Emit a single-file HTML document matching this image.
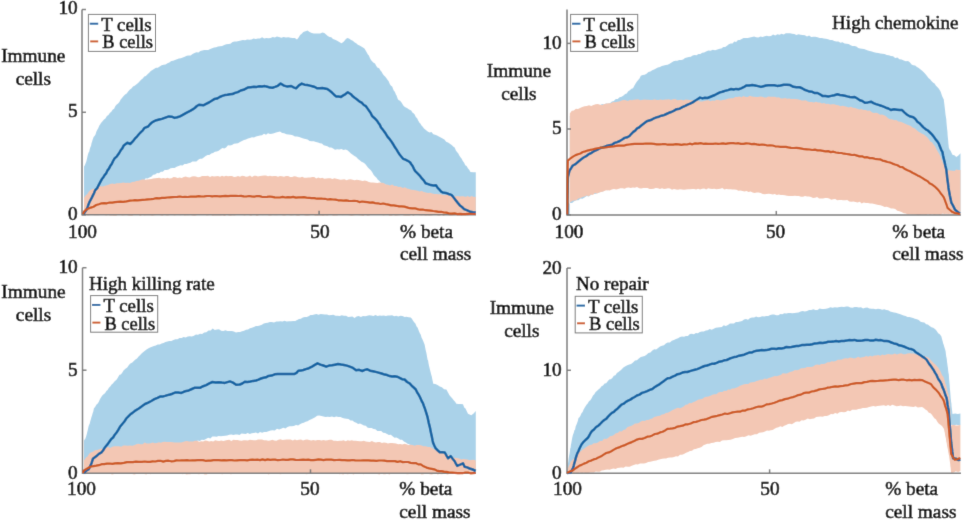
<!DOCTYPE html>
<html><head><meta charset="utf-8"><style>
html,body{margin:0;padding:0;background:#fff;width:964px;height:520px;overflow:hidden}
svg{display:block}
text{font-family:"Liberation Serif",serif;fill:#000;stroke:#000;stroke-width:0.6px}
</style></head><body>
<svg width="964" height="520" viewBox="0 0 964 520">
<defs><filter id="soft" x="0" y="0" width="100%" height="100%" filterUnits="userSpaceOnUse"><feConvolveMatrix order="3" kernelMatrix="0.0100 0.0800 0.0100 0.0800 0.6400 0.0800 0.0100 0.0800 0.0100" edgeMode="duplicate"/></filter></defs>
<rect width="964" height="520" fill="#fff"/>
<g filter="url(#soft)">
<rect width="964" height="520" fill="#fff"/>
<polygon points="84.0,214.0 84.0,212.1 84.0,209.8 84.0,208.0 84.0,205.4 84.0,204.2 84.0,202.2 84.0,199.9 84.0,197.2 84.0,195.6 84.0,193.3 84.0,191.2 84.0,190.1 84.0,188.1 84.0,184.8 84.0,183.9 84.0,181.4 84.0,179.1 84.0,176.9 84.0,175.4 84.0,173.1 84.0,171.3 84.0,169.3 84.0,166.5 84.8,165.3 85.5,163.5 86.3,161.5 86.9,159.0 87.5,156.3 88.0,154.3 88.6,152.6 89.2,151.8 89.8,149.0 90.4,147.1 91.0,145.9 91.5,143.2 92.1,141.6 92.7,139.5 93.6,137.1 94.5,136.0 95.5,134.4 96.4,131.6 97.3,129.8 98.2,128.2 99.2,125.8 100.1,124.6 101.0,123.1 102.5,121.3 104.0,119.6 105.4,118.4 106.9,115.9 108.4,114.9 109.8,113.0 111.3,111.7 112.8,109.5 114.1,108.7 115.4,106.0 116.7,104.4 118.1,103.6 119.4,102.1 120.7,99.6 122.0,97.9 123.6,96.1 125.1,94.5 126.7,93.4 128.3,91.3 129.9,89.6 131.4,88.5 133.0,86.5 134.6,85.8 136.2,84.6 137.8,83.2 139.5,81.4 141.1,79.8 142.7,78.5 144.3,76.5 145.9,76.1 147.5,74.2 149.2,72.7 150.8,71.0 152.4,70.1 154.0,68.9 155.9,67.8 157.8,67.7 159.7,66.6 161.6,65.2 163.5,64.8 165.5,64.6 167.4,63.2 169.3,62.5 171.2,61.0 173.1,60.8 175.0,59.9 176.9,59.2 178.9,58.6 180.8,58.2 182.8,57.5 184.7,56.8 186.7,55.7 188.6,55.4 190.6,55.5 192.5,54.1 194.5,52.9 196.4,52.2 198.4,52.4 200.3,51.1 202.3,50.6 204.3,50.1 206.2,50.0 208.2,50.1 210.2,48.9 212.1,48.2 214.1,47.6 216.1,47.2 218.0,46.5 220.0,46.3 222.1,46.0 224.2,45.1 226.2,44.2 228.3,43.9 230.4,43.7 232.5,42.0 234.6,41.6 236.6,41.5 238.7,41.0 240.8,40.4 242.9,40.1 245.1,40.2 247.2,39.4 249.3,39.7 251.5,39.6 253.6,38.6 255.7,39.0 257.9,38.5 260.0,38.5 262.1,37.3 264.2,38.4 266.3,38.0 268.4,38.2 270.6,38.1 272.7,37.0 274.8,37.5 276.9,36.6 279.0,37.1 281.3,37.8 283.6,37.0 286.0,37.4 288.3,37.3 290.6,37.7 292.7,37.9 294.9,37.9 297.0,39.4 298.6,37.5 300.1,35.1 301.7,33.8 303.3,32.0 305.4,31.2 307.5,30.6 309.6,32.0 311.8,32.9 313.9,33.6 316.0,33.5 318.1,33.6 320.2,33.4 322.3,32.6 324.4,33.0 326.1,34.6 327.8,35.9 329.6,36.9 331.3,37.3 333.0,39.1 335.1,39.7 337.2,40.7 339.3,42.0 341.4,43.3 343.0,42.3 344.5,40.7 346.1,38.8 347.7,38.0 349.4,38.8 351.1,40.0 352.8,40.8 354.5,42.2 356.2,43.2 357.9,44.8 359.6,45.5 361.3,46.5 363.0,47.6 364.7,48.7 365.8,50.7 366.8,52.5 367.9,54.4 368.9,55.6 369.9,57.9 371.0,60.0 372.3,61.6 373.6,62.8 375.0,63.5 376.3,66.1 377.6,67.7 379.0,68.1 380.3,70.2 381.6,71.8 382.8,74.0 384.0,75.4 385.1,76.6 386.3,78.1 387.5,79.8 388.7,81.3 389.8,83.9 391.0,85.8 392.2,86.4 393.1,89.0 394.0,91.1 394.9,91.8 395.8,94.2 396.7,95.8 397.6,98.4 398.5,100.0 400.1,100.7 401.7,102.8 403.3,105.5 404.9,107.0 407.0,108.0 409.1,109.4 411.2,110.4 412.4,112.4 413.5,113.2 414.7,114.5 415.9,117.2 417.0,118.0 418.2,120.5 419.3,122.6 420.5,123.7 421.7,125.7 422.8,126.8 424.0,128.5 425.9,130.1 427.7,131.4 429.6,132.5 431.5,132.1 433.3,134.3 435.2,134.7 437.1,135.4 438.9,136.4 440.8,137.6 442.6,138.5 444.4,139.4 446.2,141.7 448.1,142.6 449.9,143.7 451.7,145.1 453.5,146.7 454.7,147.4 455.8,150.2 457.0,152.1 458.2,153.3 459.3,155.5 460.5,157.2 461.7,158.7 462.8,160.9 464.0,162.4 465.3,165.2 466.6,165.9 467.9,168.2 469.2,169.8 470.5,172.1 473.1,172.3 475.8,172.2 475.8,174.3 475.8,175.9 475.8,178.0 475.8,180.5 475.8,183.4 475.8,184.2 475.8,186.5 475.8,189.2 475.8,190.9 475.8,192.8 475.8,195.9 475.8,196.7 475.8,199.6 475.8,201.4 475.8,203.4 475.8,205.3 475.8,207.3 475.8,209.7 475.8,212.3 475.8,214.0 475.8,214.0 473.8,213.3 471.8,212.6 469.8,212.2 467.8,212.3 465.8,211.1 463.8,210.5 461.9,210.2 459.9,210.0 457.9,209.1 455.9,209.1 453.9,208.3 451.9,207.8 449.9,207.2 447.9,207.3 445.9,205.8 443.9,206.5 441.9,205.9 439.9,204.8 437.9,204.9 435.9,203.3 433.9,203.4 432.0,203.7 430.0,202.9 428.0,202.1 426.0,201.3 424.0,200.7 422.0,200.6 420.0,199.6 418.1,199.2 416.2,197.8 414.4,197.5 412.5,197.2 410.6,196.4 408.7,195.3 406.9,193.9 405.0,193.8 403.1,192.7 401.2,191.2 399.4,191.5 397.5,190.8 395.6,188.9 393.7,189.3 391.9,187.9 390.0,187.5 388.1,186.1 386.2,184.7 384.4,184.8 382.5,183.7 380.6,182.6 379.2,180.8 377.8,179.8 376.5,177.7 375.1,176.5 373.7,175.0 372.2,172.2 370.8,170.2 369.4,169.1 367.9,167.4 366.4,165.6 365.0,163.8 363.2,162.5 361.5,161.7 359.7,160.3 358.0,158.9 356.2,157.1 354.4,156.1 352.7,154.8 350.9,153.5 349.1,151.8 347.4,150.3 345.6,149.6 343.5,149.9 341.4,149.0 339.2,149.4 337.1,149.3 335.0,149.8 333.1,148.6 331.2,147.5 329.3,147.6 327.4,146.2 325.6,145.7 323.7,145.3 321.8,143.6 319.9,143.3 318.0,142.4 315.9,141.9 313.8,141.2 311.7,141.3 309.6,140.9 307.5,139.6 305.4,139.0 303.3,138.5 301.2,137.7 299.1,137.0 297.0,136.5 294.9,136.4 292.7,135.3 290.6,134.7 288.4,134.4 286.3,134.3 284.2,133.2 282.1,133.1 280.0,131.6 278.0,131.9 276.0,132.6 274.0,133.3 272.0,133.8 270.0,134.0 268.0,133.3 266.0,134.8 264.0,133.8 262.0,135.2 260.0,135.6 258.0,136.1 256.0,136.4 254.0,137.5 252.0,137.3 250.0,137.9 248.0,138.6 246.0,139.5 244.0,140.1 242.0,141.0 240.0,142.0 238.0,143.2 236.0,143.6 234.0,143.8 232.0,144.9 230.0,145.4 228.0,145.3 226.1,147.4 224.3,148.4 222.4,148.0 220.6,149.2 218.7,150.7 216.8,151.4 215.0,151.8 213.1,152.9 211.3,153.6 209.4,155.1 207.6,154.9 205.7,156.1 203.8,157.4 202.0,158.8 200.1,158.8 198.3,159.7 196.4,161.4 194.4,161.6 192.4,161.5 190.5,162.7 188.5,163.3 186.5,163.9 184.5,163.9 182.5,165.4 180.6,165.2 178.6,165.9 176.6,166.8 174.6,168.0 172.6,168.0 170.6,168.2 168.7,169.6 166.7,170.1 164.7,170.1 162.8,171.8 160.9,171.8 159.0,173.2 157.1,173.1 155.1,174.4 153.2,174.7 151.3,176.8 149.4,177.5 147.5,178.4 145.6,178.3 144.0,180.8 142.4,181.4 140.8,183.4 139.2,183.5 137.6,185.2 136.0,186.9 134.4,188.6 132.8,189.5 131.2,190.3 129.6,192.7 128.0,193.5 126.4,195.0 124.8,195.5 123.2,197.9 121.6,199.1 120.0,199.4 118.1,201.4 116.2,201.3 114.3,202.8 112.4,203.4 110.5,203.4 108.6,204.4 106.7,204.8 104.8,206.2 102.9,206.5 101.1,206.7 99.2,207.6 97.3,209.1 95.4,209.9 93.5,210.7 91.6,210.8 89.7,212.4 87.8,213.0 85.9,213.3 84.0,214.0" fill="#aad2e9"/>
<polygon points="84.0,214.0 84.0,211.9 84.0,210.1 84.0,208.6 84.0,206.0 84.0,204.0 84.0,202.1 84.0,199.6 84.0,198.0 85.4,195.8 87.2,194.2 89.0,191.4 90.8,189.9 93.0,188.8 95.1,188.9 97.3,187.9 99.4,186.1 101.6,186.6 103.7,186.2 105.9,185.4 108.0,185.0 110.2,184.1 112.3,183.5 114.5,184.0 116.7,183.2 118.9,183.2 121.2,183.0 123.4,182.5 125.6,182.9 127.8,182.7 130.0,183.1 132.1,182.1 134.3,181.8 136.4,181.1 138.6,180.8 140.7,180.0 142.9,179.2 145.0,179.7 147.0,179.6 149.1,179.3 151.1,179.0 153.1,178.4 155.2,178.2 157.2,178.1 159.3,177.8 161.3,178.6 163.3,178.0 165.4,178.6 167.4,177.8 169.4,178.5 171.5,178.3 173.5,177.0 175.6,177.2 177.6,178.1 179.6,177.4 181.7,178.0 183.7,177.1 185.7,176.6 187.8,177.2 189.8,177.4 191.9,176.5 193.9,176.2 195.9,176.5 198.0,177.2 200.0,176.9 202.0,176.0 204.0,176.1 206.0,175.9 208.0,175.8 210.0,176.9 212.0,176.0 214.0,176.5 216.0,176.3 218.0,176.0 220.0,176.7 222.0,175.8 224.0,176.6 226.0,175.8 228.0,176.2 230.0,175.9 232.0,176.0 234.0,176.9 236.0,176.7 238.0,176.0 240.0,176.8 242.0,175.8 244.0,176.1 246.0,176.7 248.0,176.4 250.0,175.6 252.0,176.9 254.0,175.8 256.0,175.8 258.0,176.5 260.0,175.9 262.0,175.8 264.0,175.5 266.0,175.5 268.0,176.2 270.0,175.7 272.0,176.2 274.0,175.9 276.0,176.0 278.0,176.7 280.0,176.0 282.0,176.2 284.0,176.7 286.0,175.9 288.1,175.9 290.1,177.1 292.1,177.0 294.1,176.3 296.1,176.4 298.1,177.2 300.1,177.6 302.2,176.7 304.2,177.8 306.2,177.8 308.2,177.5 310.2,177.4 312.2,177.0 314.2,177.1 316.3,178.4 318.3,177.5 320.3,178.3 322.3,177.8 324.3,178.7 326.3,178.5 328.4,178.2 330.4,178.2 332.4,179.1 334.4,178.3 336.4,178.7 338.5,179.2 340.5,179.8 342.5,179.6 344.5,179.3 346.5,180.3 348.5,179.4 350.6,179.3 352.6,179.8 354.6,180.2 356.6,179.8 358.6,180.0 360.7,180.4 362.7,180.9 364.7,180.4 366.8,181.0 368.9,182.1 371.0,182.5 373.1,182.4 375.2,182.7 377.4,182.9 379.5,182.6 381.6,182.7 383.7,183.0 385.8,184.6 387.9,184.7 390.0,185.5 392.2,184.6 394.3,185.9 396.4,186.1 398.5,186.9 400.6,186.8 402.8,188.1 404.9,187.3 407.0,188.4 409.1,189.1 411.2,189.7 413.3,189.9 415.4,190.3 417.5,190.8 419.6,191.4 421.7,191.0 423.8,191.9 425.9,192.6 428.0,193.0 430.1,192.7 432.3,193.5 434.4,194.0 436.5,193.9 438.6,194.3 440.8,194.3 442.9,194.9 445.0,195.2 447.2,194.8 449.3,195.9 451.3,196.5 453.4,196.4 455.4,196.3 457.5,195.9 459.5,196.5 461.5,196.3 463.6,196.2 465.6,196.9 467.6,195.9 469.7,196.9 471.7,196.0 473.8,196.9 475.8,196.8 475.8,198.6 475.8,201.4 475.8,203.2 475.8,205.6 475.8,208.1 475.8,209.4 475.8,211.2 475.8,214.0 475.8,215.2 473.8,215.1 471.8,214.5 469.8,215.1 467.8,215.5 465.8,214.7 463.7,214.5 461.7,215.4 459.7,214.7 457.7,214.8 455.7,214.9 453.7,215.3 451.7,215.5 449.7,215.6 447.7,215.1 445.7,214.5 443.7,215.9 441.6,214.8 439.6,215.8 437.6,215.4 435.6,214.5 433.6,215.1 431.6,215.4 429.6,215.7 427.6,215.6 425.6,215.8 423.6,215.2 421.6,215.4 419.5,215.3 417.5,215.0 415.5,214.6 413.5,215.9 411.5,214.7 409.5,215.8 407.5,215.7 405.5,215.7 403.5,215.5 401.5,214.6 399.4,215.2 397.4,215.6 395.4,215.7 393.4,214.9 391.4,215.7 389.4,215.7 387.4,214.6 385.4,215.1 383.4,215.4 381.4,214.7 379.4,214.7 377.3,214.8 375.3,214.9 373.3,214.9 371.3,214.6 369.3,215.6 367.3,215.8 365.3,214.5 363.3,215.9 361.3,215.5 359.3,215.2 357.3,215.1 355.2,215.1 353.2,215.5 351.2,215.8 349.2,215.3 347.2,215.0 345.2,214.6 343.2,215.3 341.2,214.9 339.2,214.7 337.2,215.6 335.2,215.5 333.1,215.7 331.1,214.6 329.1,214.9 327.1,215.8 325.1,215.2 323.1,215.9 321.1,215.5 319.1,215.6 317.1,215.8 315.1,215.7 313.1,214.6 311.0,214.9 309.0,215.5 307.0,215.8 305.0,215.6 303.0,214.7 301.0,214.7 299.0,215.8 297.0,215.7 295.0,215.1 293.0,215.2 291.0,215.4 288.9,215.1 286.9,215.1 284.9,215.6 282.9,215.6 280.9,214.6 278.9,215.1 276.9,215.3 274.9,215.2 272.9,215.1 270.9,215.4 268.8,215.5 266.8,214.7 264.8,214.7 262.8,215.3 260.8,214.5 258.8,215.3 256.8,215.9 254.8,214.7 252.8,214.9 250.8,215.7 248.8,215.0 246.7,214.7 244.7,215.5 242.7,215.1 240.7,214.9 238.7,215.1 236.7,214.8 234.7,215.6 232.7,215.2 230.7,215.7 228.7,215.5 226.7,214.7 224.6,215.9 222.6,215.2 220.6,215.5 218.6,215.6 216.6,215.6 214.6,215.4 212.6,215.8 210.6,214.8 208.6,215.3 206.6,215.4 204.6,214.6 202.5,214.7 200.5,214.7 198.5,214.6 196.5,215.3 194.5,215.7 192.5,215.6 190.5,215.0 188.5,215.2 186.5,215.3 184.5,215.5 182.5,214.6 180.4,215.2 178.4,215.1 176.4,215.1 174.4,215.5 172.4,214.8 170.4,214.7 168.4,215.4 166.4,215.5 164.4,214.7 162.4,215.8 160.4,215.2 158.3,214.7 156.3,214.9 154.3,215.3 152.3,215.7 150.3,215.2 148.3,215.3 146.3,215.3 144.3,215.5 142.3,214.8 140.3,215.9 138.2,214.5 136.2,214.9 134.2,214.8 132.2,215.7 130.2,215.7 128.2,215.4 126.2,214.8 124.2,215.3 122.2,215.5 120.2,214.8 118.2,214.8 116.1,215.8 114.1,215.7 112.1,215.6 110.1,215.4 108.1,215.0 106.1,215.5 104.1,214.9 102.1,214.9 100.1,215.1 98.1,215.2 96.1,215.2 94.0,215.2 92.0,214.8 90.0,215.0 88.0,215.4 86.0,214.8 84.0,215.2" fill="#f3c7b4"/>
<path d="M82.0,9.5 V214.8 H476" fill="none" stroke="#7a7a7a" stroke-width="1.5"/>
<path d="M82.0,9.5 h4" stroke="#7a7a7a" stroke-width="1.5"/>
<path d="M82.0,112.3 h4" stroke="#7a7a7a" stroke-width="1.5"/>
<path d="M82.0,214.8 h4" stroke="#7a7a7a" stroke-width="1.5"/>
<path d="M319.1,214.8 v-4" stroke="#7a7a7a" stroke-width="1.5"/>
<polyline points="83.5,214.0 85.0,211.8 86.5,209.7 87.6,207.2 88.6,204.2 89.7,201.6 91.3,198.7 92.9,195.4 94.0,193.2 95.1,190.4 97.2,188.1 98.8,184.9 100.5,181.7 101.9,179.1 103.4,177.2 104.8,174.8 106.2,173.3 107.5,170.4 108.8,168.9 110.2,166.1 111.7,164.0 113.1,161.0 114.6,158.4 116.9,156.3 119.2,153.0 120.7,150.3 122.3,148.4 123.8,145.4 127.3,142.7 130.2,144.0 132.8,141.4 135.4,138.1 137.2,136.3 139.1,134.0 140.9,132.1 142.8,130.3 144.6,127.8 148.1,126.5 150.0,124.2 151.9,122.5 153.8,121.4 156.5,120.2 159.2,119.5 161.9,118.9 165.4,117.6 168.8,116.4 171.7,116.7 174.6,117.9 177.3,117.3 180.0,116.4 183.2,114.6 186.3,112.8 190.6,110.6 192.7,109.4 194.8,108.0 196.9,106.0 199.0,104.7 203.3,105.3 206.1,103.8 208.9,102.5 211.7,100.7 214.3,99.1 217.0,98.6 219.7,97.0 222.3,95.9 224.8,95.1 227.4,94.8 229.9,94.2 232.5,94.1 235.0,92.9 237.8,92.1 240.7,90.5 243.5,89.8 247.7,87.6 250.8,87.2 254.0,86.8 256.7,86.9 259.4,86.2 262.0,86.5 264.7,86.1 267.4,86.8 270.0,87.6 272.5,87.7 275.0,86.9 277.8,85.8 280.6,83.5 284.0,85.6 287.4,86.6 291.2,86.0 293.6,87.3 296.1,88.3 298.9,85.4 301.7,83.6 304.5,84.7 307.3,85.0 309.8,85.6 312.3,86.2 314.8,87.0 317.3,88.3 319.8,88.3 322.3,88.0 324.8,88.5 327.3,89.0 329.8,90.8 332.2,92.8 334.1,94.7 336.0,96.4 338.5,96.4 341.0,96.9 343.3,95.4 345.5,94.1 347.8,92.3 350.9,94.2 352.8,96.3 354.7,97.8 357.1,99.5 359.6,101.6 361.7,102.7 363.8,105.0 365.9,106.2 367.8,108.9 369.6,111.4 370.9,113.4 372.1,116.0 374.6,118.2 377.1,120.8 378.4,122.9 379.7,124.6 381.0,127.4 382.3,129.1 384.0,131.3 385.8,133.8 387.5,136.6 389.2,138.6 391.0,140.9 392.7,143.5 394.0,145.7 395.3,147.7 396.6,149.6 397.9,151.9 399.6,154.5 401.4,156.7 403.1,158.8 405.4,159.7 407.7,160.8 410.0,162.3 411.3,164.3 412.6,166.0 413.9,168.8 415.2,171.2 417.8,173.7 420.4,176.4 422.1,178.7 423.9,180.6 425.6,183.2 428.2,184.1 430.8,185.1 433.4,185.4 436.0,185.3 437.7,187.9 439.5,189.7 441.2,191.6 443.0,192.6 445.8,192.9 448.6,194.0 451.4,194.9 453.0,196.7 454.6,198.7 456.2,200.9 457.8,202.9 459.9,205.4 462.0,207.0 464.1,209.1 467.3,210.4 470.5,211.8 473.1,212.3 475.8,212.6" fill="none" stroke="#0a62a2" stroke-width="2.5" stroke-linejoin="round" stroke-linecap="butt"/>
<polyline points="83.0,214.0 84.2,211.3 86.5,209.4 90.8,207.6 93.5,206.7 96.2,205.0 98.9,204.2 101.6,203.3 104.3,203.1 106.9,203.3 109.6,202.5 112.3,202.6 115.0,202.1 117.7,201.9 120.4,201.7 123.1,201.8 126.5,201.3 130.0,200.6 132.5,200.5 135.0,200.1 137.5,200.4 140.0,200.1 142.7,199.8 145.5,199.6 148.2,199.3 151.0,199.2 153.7,198.8 156.5,198.1 159.2,198.4 162.0,197.8 164.7,197.8 167.2,197.5 169.8,197.3 172.3,197.1 174.8,197.0 177.4,196.8 179.9,196.5 182.5,197.0 185.0,196.9 187.8,197.0 190.5,196.7 193.2,196.5 196.0,196.7 198.8,196.1 201.5,196.5 204.2,196.3 207.0,196.0 209.6,196.0 212.2,196.3 214.9,196.0 217.5,196.2 220.1,196.3 222.8,196.1 225.4,195.9 228.0,196.2 230.6,195.9 233.2,195.9 235.9,195.9 238.5,196.0 241.1,195.8 243.8,196.3 246.4,196.5 249.0,196.0 251.6,196.4 254.2,196.7 256.8,196.0 259.3,196.1 261.9,196.8 264.5,197.0 267.1,196.9 269.7,196.5 272.2,196.8 274.8,197.3 277.4,197.5 280.0,197.5 282.6,196.9 285.3,197.5 287.9,197.1 290.6,197.4 293.2,196.9 295.9,197.6 298.6,197.3 301.2,197.4 303.8,197.2 306.5,197.7 309.1,197.9 311.8,198.1 314.4,198.1 317.0,198.7 319.7,198.5 322.3,198.7 324.9,198.8 327.6,199.5 330.2,199.2 332.9,199.5 335.6,199.6 338.2,200.3 340.9,200.4 343.5,200.6 346.1,200.4 348.8,200.9 351.4,201.0 354.1,200.9 356.8,201.0 359.4,202.1 362.1,201.5 364.7,201.8 367.3,202.1 370.0,202.6 372.6,202.4 375.2,203.1 377.9,203.3 380.5,204.0 383.2,203.5 385.8,204.1 388.4,204.6 391.1,205.4 393.8,205.4 396.4,205.8 399.1,206.4 401.7,206.4 404.4,206.6 407.0,207.4 409.6,208.2 412.2,208.4 414.9,208.3 417.5,209.1 420.1,209.7 422.8,209.5 425.4,210.2 428.0,210.4 430.7,210.6 433.3,211.0 436.0,211.3 438.6,211.8 441.3,211.8 444.0,212.5 446.6,212.6 449.3,213.5 452.0,213.6 454.6,213.3 457.3,214.1 460.0,213.8 462.6,214.1 465.3,214.1 467.9,213.9 470.5,213.8 473.2,214.0 475.8,214.0" fill="none" stroke="#cc561c" stroke-width="2.2" stroke-linejoin="round" stroke-linecap="butt"/>
<rect x="88.4" y="14.4" width="67.1" height="37.0" fill="#fff" stroke="#777" stroke-width="1"/>
<path d="M89.80000000000001,23.700000000000003 h8.4" stroke="#0a62a2" stroke-width="1.9"/>
<path d="M90.2,41.4 h8" stroke="#cc561c" stroke-width="1.9"/>
<text x="101.2" y="30.6" text-anchor="start" font-size="19.3" textLength="50.4" lengthAdjust="spacingAndGlyphs">T cells</text>
<text x="102.2" y="48.4" text-anchor="start" font-size="19.3" textLength="50.8" lengthAdjust="spacingAndGlyphs">B cells</text>
<text x="33.3" y="61.5" text-anchor="middle" font-size="19.3">Immune</text>
<text x="33.3" y="84.7" text-anchor="middle" font-size="19.3">cells</text>
<text x="77.7" y="14.4" text-anchor="end" font-size="19.3">10</text>
<text x="77.7" y="117.4" text-anchor="end" font-size="19.3">5</text>
<text x="77.7" y="219.7" text-anchor="end" font-size="19.3">0</text>
<text x="82.5" y="237.6" text-anchor="middle" font-size="19.3">100</text>
<text x="319.9" y="237.6" text-anchor="middle" font-size="19.3">50</text>
<text x="400" y="237.6" text-anchor="start" font-size="19.3">% beta</text>
<text x="400" y="260.4" text-anchor="start" font-size="19.3">cell mass</text>
<polygon points="569.8,214.0 569.8,212.6 569.8,210.3 569.8,208.4 569.8,206.6 569.8,203.7 569.8,202.2 569.8,200.6 569.8,198.5 569.8,196.1 569.8,193.5 569.8,191.9 569.8,190.7 569.8,187.4 569.8,185.7 569.8,184.6 569.8,181.9 569.8,179.6 569.8,177.7 569.8,176.6 569.8,173.8 569.8,171.9 569.8,170.2 569.8,168.4 569.8,166.0 569.8,163.4 569.8,162.1 569.8,159.3 569.8,157.4 569.8,155.6 569.8,154.3 569.8,151.7 569.8,150.3 569.8,147.5 569.8,145.5 569.8,143.3 569.8,142.3 569.8,140.5 569.8,137.6 569.8,135.6 569.8,133.3 569.8,132.2 569.8,129.7 569.8,127.5 569.8,126.2 569.8,124.1 569.8,121.9 569.8,119.5 569.8,118.2 569.8,116.1 571.6,115.1 573.5,113.9 575.3,114.1 577.1,113.2 579.0,112.2 580.8,111.8 582.7,110.4 584.5,109.2 586.3,108.1 588.2,108.0 590.0,107.0 592.0,106.5 594.0,106.9 596.0,106.3 598.0,104.9 600.0,105.6 602.0,104.0 604.0,104.5 606.0,103.6 608.0,103.8 609.9,103.2 611.9,101.6 613.8,101.0 615.8,99.0 617.7,98.9 619.6,97.2 621.6,96.7 623.5,95.6 625.1,93.9 626.7,93.5 628.2,91.3 629.8,90.3 631.4,88.7 633.0,88.2 634.3,85.8 635.6,83.5 636.9,81.6 638.2,79.9 639.5,78.4 640.8,75.8 642.7,74.9 644.6,74.8 646.5,73.7 648.4,72.1 650.3,71.4 652.2,70.2 654.1,69.4 656.0,68.6 657.9,67.6 659.9,66.9 661.8,66.1 663.8,65.5 665.7,65.1 667.6,64.8 669.6,63.7 671.5,62.6 673.5,61.3 675.4,60.8 677.3,60.8 679.2,59.9 681.2,59.9 683.1,59.5 685.0,58.0 686.9,57.5 688.8,56.9 690.8,56.8 692.7,55.4 694.6,55.1 696.5,55.3 698.4,53.9 700.3,54.1 702.2,52.7 704.1,52.6 706.0,51.4 708.3,50.5 710.5,50.7 712.8,49.7 715.1,50.2 717.3,49.4 719.6,48.7 721.4,48.5 723.3,47.1 725.1,46.9 727.0,45.7 728.8,44.2 730.6,43.5 732.5,43.5 734.3,41.6 736.1,42.0 738.0,39.9 739.8,40.1 741.7,39.1 743.5,38.0 745.6,38.1 747.7,37.9 749.9,37.4 752.0,37.1 754.1,36.6 756.2,37.3 758.3,37.4 760.5,36.6 762.6,37.1 764.7,36.3 766.8,35.8 768.9,36.2 771.0,36.1 773.1,34.6 775.2,35.4 777.4,34.3 779.5,34.7 781.6,33.7 783.7,34.4 785.8,33.2 787.9,33.2 790.0,33.3 792.2,33.7 794.3,33.9 796.4,35.1 798.5,34.3 800.6,34.7 802.8,35.1 804.9,35.2 807.0,36.4 809.1,35.6 811.2,36.9 813.3,36.7 815.4,36.8 817.5,37.2 819.7,38.0 821.8,37.9 823.9,38.4 826.0,38.7 828.1,39.3 830.2,40.0 832.2,39.9 834.3,40.9 836.3,41.6 838.4,41.5 840.5,42.7 842.5,42.3 844.6,43.4 846.6,43.7 848.7,43.9 850.6,45.2 852.5,46.1 854.5,46.1 856.4,46.5 858.3,47.9 860.2,48.6 862.1,48.7 864.0,49.1 866.0,49.8 867.9,50.5 869.8,51.1 871.9,51.4 874.0,52.2 876.2,52.7 878.3,53.1 880.4,53.5 882.5,53.8 884.6,54.1 886.8,55.1 888.9,55.3 891.0,56.1 893.1,56.3 895.2,58.0 897.4,57.6 899.5,59.3 901.6,59.5 903.8,60.6 905.9,61.3 908.0,60.9 909.8,62.3 911.6,64.5 913.4,65.2 915.2,65.6 917.0,67.1 918.8,68.0 920.6,69.5 922.2,70.8 923.8,72.3 925.4,73.9 927.0,76.1 928.5,78.0 930.1,79.3 931.7,81.2 933.3,82.7 934.6,83.5 936.0,85.8 937.3,87.0 938.7,88.4 940.0,90.6 940.8,91.9 941.5,94.3 942.3,96.4 943.0,98.0 943.8,99.5 944.0,101.6 944.3,103.7 944.5,105.6 944.8,107.9 945.0,109.4 945.3,112.4 945.5,114.4 945.8,116.2 946.0,117.5 946.3,119.6 946.5,122.7 946.7,124.8 946.9,126.7 947.1,129.0 947.3,130.2 947.5,132.4 947.6,134.7 947.8,136.9 948.0,138.8 948.2,140.8 948.4,143.7 948.6,144.9 948.8,147.6 949.7,149.8 950.6,150.8 951.6,152.9 952.5,154.8 954.4,155.3 956.3,156.9 958.4,155.6 960.5,153.3 960.5,155.2 960.5,157.9 960.5,159.8 960.5,161.2 960.5,164.3 960.5,166.4 960.5,167.9 960.5,169.3 960.5,171.4 960.5,174.3 960.5,176.1 960.5,177.8 960.5,180.5 960.5,181.3 960.5,184.2 960.5,186.4 960.5,188.4 960.5,189.4 960.5,192.2 960.5,194.0 960.5,196.1 960.5,197.5 960.5,200.6 960.5,202.6 960.5,203.4 960.5,206.0 960.5,208.0 960.5,209.9 960.5,211.8 960.5,214.0 960.5,213.0 958.5,212.8 956.5,212.6 954.4,213.7 952.4,213.2 950.4,213.0 948.4,212.6 946.3,213.4 944.3,212.6 942.3,213.4 940.3,213.6 938.2,213.3 936.2,212.8 934.2,212.4 932.2,213.7 930.2,212.8 928.1,212.8 926.1,213.6 924.1,213.3 922.1,213.3 920.0,213.6 918.0,213.5 916.0,213.2 914.0,212.5 911.9,213.2 909.9,212.9 907.9,213.1 906.1,212.8 904.3,211.8 902.5,209.9 900.6,210.0 898.8,208.1 897.0,208.2 895.2,207.1 893.1,206.5 891.0,205.1 888.9,205.0 886.7,205.1 884.6,204.4 882.5,203.5 880.4,202.5 878.3,202.0 876.3,201.5 874.2,202.0 872.1,201.0 870.0,201.4 868.0,200.7 865.9,201.0 863.8,200.4 861.7,200.2 859.7,199.4 857.6,200.2 855.5,198.9 853.4,199.2 851.4,199.3 849.3,198.5 847.3,198.4 845.3,198.7 843.3,198.5 841.2,197.1 839.2,197.8 837.2,197.4 835.2,196.7 833.2,197.6 831.2,196.2 829.2,196.5 827.1,195.9 825.1,195.9 823.1,195.9 821.1,195.2 819.1,195.8 817.1,195.6 815.1,194.7 813.0,195.6 811.0,195.1 809.0,195.4 807.0,194.8 805.0,193.9 803.0,194.7 801.0,193.7 798.9,193.7 796.9,193.7 794.9,194.1 792.9,193.5 790.9,193.1 788.9,193.2 786.9,192.4 784.8,193.4 782.8,192.9 780.8,192.1 778.8,193.0 776.8,192.3 774.8,191.7 772.8,191.8 770.7,192.4 768.7,191.3 766.7,192.3 764.7,191.3 762.7,191.8 760.7,190.9 758.6,190.6 756.6,191.1 754.6,190.0 752.6,189.8 750.6,190.2 748.5,190.1 746.5,190.1 744.5,189.9 742.5,188.4 740.5,188.9 738.5,188.6 736.4,188.6 734.4,187.7 732.4,188.2 730.4,187.6 728.4,188.1 726.3,186.8 724.3,186.5 722.3,187.3 720.3,187.6 718.3,187.1 716.3,187.5 714.2,186.7 712.2,187.7 710.2,187.3 708.2,187.2 706.2,187.1 704.2,186.9 702.2,187.5 700.1,187.3 698.1,186.9 696.1,186.8 694.1,187.1 692.1,186.7 690.1,187.2 688.1,186.8 686.0,187.4 684.0,187.8 682.0,187.0 680.0,187.5 678.0,187.4 676.0,187.1 674.0,186.7 672.0,187.5 670.0,186.8 668.0,186.7 666.0,187.2 664.0,186.6 662.0,186.3 660.0,186.4 657.9,186.6 655.8,186.2 653.7,186.8 651.6,185.6 649.5,186.9 647.5,185.8 645.4,186.9 643.3,185.8 641.2,186.4 639.1,185.6 637.0,186.0 634.9,186.5 632.9,186.7 630.8,186.6 628.7,186.0 626.6,186.2 624.6,185.9 622.5,186.5 620.4,187.2 618.2,187.6 616.1,187.6 614.0,188.4 611.8,188.4 609.7,189.4 607.6,190.3 605.4,189.4 603.3,191.2 601.2,191.5 599.2,192.4 597.1,193.2 595.0,194.0 592.9,193.7 590.9,195.1 588.8,196.4 586.7,196.0 584.6,197.4 582.5,198.7 580.5,198.5 578.4,200.2 576.3,200.3 574.2,201.3 572.1,203.0 570.0,202.9 568.0,204.6 568.0,207.9 568.0,209.8 568.0,212.0 568.0,214.0" fill="#aad2e9"/>
<polygon points="568.0,214.0 568.3,211.3 568.6,209.9 568.9,207.6 569.2,205.2 569.5,202.6 569.5,201.4 569.5,199.4 569.5,196.9 569.5,194.9 569.5,192.5 569.5,190.2 569.5,188.7 569.6,186.9 569.6,184.2 569.6,183.2 569.6,180.4 569.6,178.4 569.6,176.1 569.6,175.4 569.6,173.0 569.6,171.2 569.6,168.8 569.6,165.9 569.6,164.3 569.6,162.5 569.6,160.0 569.6,159.1 569.7,156.3 569.7,154.0 569.7,152.9 569.7,149.9 569.7,149.0 569.7,146.3 569.7,144.4 569.7,142.1 569.7,140.3 569.7,137.8 569.7,135.6 569.7,134.7 569.7,131.8 569.7,130.6 569.8,127.8 569.8,126.8 569.8,124.7 569.8,122.4 569.8,120.4 569.8,118.2 569.8,116.3 569.8,113.5 571.8,110.8 573.8,110.4 575.9,108.7 578.0,108.9 580.0,108.0 582.2,106.9 584.5,106.3 586.8,105.9 589.0,105.3 591.2,106.0 593.4,104.9 595.6,104.2 597.9,104.1 600.1,104.7 602.3,104.9 604.5,104.0 606.6,103.6 608.8,103.3 610.9,103.2 613.0,102.1 615.2,102.2 617.3,101.7 619.4,101.4 621.6,100.4 623.7,100.0 625.8,100.2 627.8,100.9 629.9,100.0 631.9,100.3 634.0,99.8 636.0,99.4 638.1,99.3 640.2,100.3 642.2,100.1 644.3,99.5 646.3,99.8 648.4,99.7 650.4,99.9 652.5,99.9 654.6,99.2 656.6,100.1 658.7,100.1 660.8,99.6 662.8,100.0 664.9,99.5 667.0,99.4 669.0,99.2 671.1,100.1 673.1,99.2 675.2,99.1 677.3,100.2 679.3,100.1 681.4,99.8 683.5,100.4 685.5,99.4 687.6,99.8 689.7,100.0 691.7,100.2 693.8,100.0 695.9,100.0 697.9,100.5 700.0,101.4 702.1,101.4 704.2,101.0 706.2,100.6 708.3,100.2 710.4,101.2 712.5,100.5 714.5,100.7 716.6,99.7 718.7,99.9 720.8,100.4 722.8,100.0 724.9,99.7 727.0,99.0 729.0,98.4 731.1,98.2 733.2,98.2 735.2,97.1 737.3,97.0 739.4,96.6 741.5,97.2 743.5,96.0 745.6,96.9 747.7,97.1 749.8,95.7 751.9,96.6 753.9,96.8 756.0,97.1 758.1,96.9 760.2,96.5 762.2,96.8 764.3,97.6 766.4,97.6 768.5,96.6 770.6,96.7 772.6,96.7 774.7,96.7 776.8,97.5 778.9,97.3 780.9,98.5 783.0,98.5 785.1,97.9 787.2,98.7 789.2,98.6 791.3,99.1 793.4,98.9 795.5,99.0 797.5,99.2 799.6,99.7 801.6,100.5 803.7,100.6 805.7,100.2 807.8,101.4 809.8,102.0 811.8,102.1 813.9,102.5 815.9,101.7 818.0,102.6 820.0,102.4 822.0,103.6 824.0,103.0 826.1,104.0 828.1,103.7 830.2,104.6 832.2,104.3 834.3,104.2 836.3,105.0 838.4,105.2 840.5,106.3 842.5,105.7 844.6,106.3 846.6,106.7 848.7,107.5 850.8,106.7 852.9,107.8 855.0,108.1 857.2,108.8 859.3,109.5 861.4,109.0 863.5,109.9 865.6,110.0 867.7,110.7 869.7,110.5 871.8,112.2 873.8,113.0 875.9,112.7 877.9,113.2 880.0,114.7 882.0,114.4 884.0,115.3 886.0,116.3 888.0,118.3 890.0,119.2 892.1,119.3 894.2,120.2 896.2,120.0 898.3,121.5 900.4,121.8 902.5,122.5 904.6,123.4 906.7,124.5 908.8,125.3 910.8,126.1 912.9,127.7 915.0,128.4 916.8,130.3 918.6,131.7 920.4,132.8 922.1,133.7 923.9,134.6 925.7,136.1 927.5,137.5 929.0,139.4 930.5,141.7 932.0,142.2 933.5,144.5 935.0,146.3 936.0,148.3 937.0,150.3 938.0,151.9 939.0,153.4 940.0,155.4 940.8,157.2 941.5,159.5 942.3,161.3 943.0,163.3 943.8,164.6 945.0,168.1 946.3,169.8 948.3,170.2 950.4,170.6 952.4,170.8 954.4,170.9 956.4,169.6 958.5,170.1 960.5,170.1 960.5,172.3 960.5,174.1 960.5,176.7 960.5,178.1 960.5,180.5 960.5,183.5 960.5,185.3 960.5,187.0 960.5,188.5 960.5,191.8 960.5,193.5 960.5,194.9 960.5,197.2 960.5,199.7 960.5,201.8 960.5,203.3 960.5,206.3 960.5,207.5 960.5,209.5 960.5,212.4 960.5,214.0 960.5,214.0 958.5,213.9 956.5,213.7 954.4,214.6 952.4,214.3 950.4,213.8 948.4,213.9 946.3,213.7 944.3,214.0 942.3,213.6 940.3,215.0 938.2,214.6 936.2,214.4 934.2,214.9 932.2,214.0 930.2,215.1 928.1,214.0 926.1,215.0 924.1,214.7 922.1,214.8 920.0,215.0 918.0,215.2 916.0,214.7 914.0,214.5 911.9,214.6 909.9,214.3 907.9,214.6 905.8,213.6 903.7,213.2 901.5,212.0 899.4,211.3 897.3,210.8 895.2,208.9 893.1,208.5 891.0,208.4 888.9,207.5 886.7,206.7 884.6,207.1 882.5,206.1 880.4,205.2 878.3,205.1 876.3,204.6 874.2,204.0 872.1,203.6 870.0,203.4 868.0,202.9 865.9,203.1 863.8,202.4 861.7,203.4 859.7,201.7 857.6,202.6 855.5,201.9 853.4,201.4 851.4,201.8 849.3,201.4 847.3,200.1 845.3,200.2 843.3,200.3 841.2,200.0 839.2,200.0 837.2,200.2 835.2,199.0 833.2,199.3 831.2,199.7 829.2,198.4 827.1,198.1 825.1,197.9 823.1,198.4 821.1,198.4 819.1,198.4 817.1,197.1 815.1,197.8 813.0,197.9 811.0,196.9 809.0,196.4 807.0,196.4 805.0,196.1 803.0,196.8 801.0,196.8 798.9,196.1 796.9,195.9 794.9,195.7 792.9,195.9 790.9,196.0 788.9,196.0 786.9,195.8 784.8,195.2 782.8,195.0 780.8,194.9 778.8,194.4 776.8,194.9 774.8,194.1 772.8,194.5 770.7,193.9 768.7,193.8 766.7,194.1 764.7,194.3 762.7,193.9 760.7,193.1 758.6,192.6 756.6,192.6 754.6,193.0 752.6,192.6 750.6,191.5 748.5,192.1 746.5,190.9 744.5,191.5 742.5,191.0 740.5,190.5 738.5,190.8 736.4,189.8 734.4,189.5 732.4,189.4 730.4,189.2 728.4,189.2 726.3,189.0 724.3,189.6 722.3,188.0 720.3,188.7 718.3,189.0 716.3,189.3 714.2,188.7 712.2,188.9 710.2,188.8 708.2,188.3 706.2,189.6 704.2,188.6 702.2,188.7 700.1,189.6 698.1,188.7 696.1,189.4 694.1,189.1 692.1,189.1 690.1,189.3 688.1,189.3 686.0,189.6 684.0,189.8 682.0,189.4 680.0,189.3 678.0,189.7 676.0,189.5 674.0,188.9 672.0,189.7 670.0,188.6 668.0,188.3 666.0,188.8 664.0,189.1 662.0,188.3 660.0,189.1 657.9,188.2 655.8,188.1 653.7,188.7 651.6,188.9 649.5,188.9 647.5,187.9 645.4,188.0 643.3,187.9 641.2,188.4 639.1,188.3 637.0,187.1 634.9,187.7 632.9,187.5 630.8,187.9 628.7,187.6 626.6,187.8 624.6,188.8 622.5,188.3 620.4,188.3 618.2,189.1 616.1,189.6 614.0,188.9 611.8,189.4 609.7,190.5 607.6,190.2 605.4,190.6 603.3,191.4 601.2,192.1 599.2,192.4 597.1,193.6 595.0,193.1 592.9,195.0 590.9,194.6 588.8,196.2 586.7,195.6 584.6,196.6 582.5,197.0 580.5,197.9 578.4,198.6 576.3,200.3 574.4,200.4 572.5,200.8 570.6,201.9 568.7,202.6 568.0,202.5 568.0,204.7 568.0,207.5 568.0,209.1 568.0,211.3 568.0,214.0" fill="#f3c7b4"/>
<path d="M567,9.5 V214.9 H961" fill="none" stroke="#7a7a7a" stroke-width="1.5"/>
<path d="M567,43.4 h4" stroke="#7a7a7a" stroke-width="1.5"/>
<path d="M567,129 h4" stroke="#7a7a7a" stroke-width="1.5"/>
<path d="M567,214.9 h4" stroke="#7a7a7a" stroke-width="1.5"/>
<path d="M776.3,214.9 v-4" stroke="#7a7a7a" stroke-width="1.5"/>
<polyline points="567.3,214.5 567.3,212.1 567.4,208.6 567.4,205.7 567.4,203.8 567.4,200.3 567.5,197.4 567.5,195.1 567.6,192.2 567.6,190.1 567.7,186.9 567.7,184.9 567.8,181.7 567.8,179.3 567.9,177.0 568.7,173.6 569.5,170.6 571.1,168.2 572.8,165.5 575.5,164.1 578.2,161.7 580.9,159.5 583.6,157.5 586.2,156.2 588.9,154.1 591.6,152.8 594.3,151.0 597.0,149.9 599.7,148.2 602.2,147.5 604.8,146.7 607.3,145.7 612.0,144.7 614.6,142.9 617.2,142.1 619.8,141.0 622.2,139.5 624.6,137.9 627.1,137.3 629.5,136.0 631.4,133.8 633.3,131.9 635.2,130.6 637.1,128.4 639.0,127.5 641.6,125.2 644.2,123.2 646.8,121.2 649.2,120.5 651.6,119.8 654.0,118.3 656.4,117.4 658.9,116.7 661.5,115.7 664.0,115.1 666.4,114.0 668.9,112.8 671.3,112.0 673.7,110.8 676.6,109.2 679.5,108.8 682.3,107.1 685.2,105.9 687.7,104.6 690.1,103.7 692.6,102.4 695.1,100.7 697.5,99.2 700.0,97.6 702.5,98.4 705.0,97.7 707.5,98.0 710.0,97.0 712.4,96.0 714.9,95.0 717.4,93.7 719.9,92.4 722.4,91.8 724.9,90.9 728.0,90.1 731.1,89.0 733.6,89.5 736.1,88.9 738.6,89.2 741.1,88.4 743.6,87.2 746.1,85.6 749.2,85.6 752.3,85.0 755.2,85.5 758.1,86.1 761.0,86.9 763.5,86.2 766.0,85.5 768.5,85.2 771.4,85.3 774.3,85.3 777.2,85.9 780.5,85.5 783.8,84.8 787.1,84.7 790.2,85.1 793.4,86.8 796.5,87.2 799.6,87.3 802.1,88.2 804.5,89.8 807.0,90.6 809.5,91.6 812.2,91.8 814.8,93.1 817.5,93.0 820.0,94.3 822.4,95.9 825.3,96.0 828.3,96.5 831.2,95.9 834.3,95.2 837.4,94.3 839.9,95.0 842.3,95.2 844.8,95.7 847.3,96.4 849.8,97.0 852.3,97.3 854.8,97.0 857.3,98.5 859.8,100.2 862.3,101.0 864.8,102.7 867.9,102.4 871.0,101.7 873.5,103.1 876.0,104.1 878.5,104.9 881.0,105.7 883.5,106.7 885.9,107.7 888.4,108.5 890.9,110.0 894.0,109.3 897.1,109.7 899.6,110.0 902.1,110.1 904.6,112.6 907.1,114.7 909.6,116.3 913.3,117.3 915.4,119.0 917.4,121.7 919.5,123.2 921.6,125.5 923.7,127.6 925.8,129.3 927.9,130.5 930.0,132.5 931.9,134.4 933.8,136.8 935.6,139.4 937.5,141.6 938.8,143.7 940.0,146.8 941.2,149.8 942.5,152.2 943.0,155.3 943.6,157.9 944.1,160.0 944.7,162.4 945.2,165.3 945.8,167.5 946.3,169.7 946.6,172.3 946.9,174.7 947.2,177.8 947.5,180.0 947.9,182.7 948.2,185.3 948.5,187.9 948.8,189.7 949.3,192.4 949.8,195.3 950.3,197.7 950.8,199.9 951.3,202.6 952.5,204.7 953.8,207.2 955.0,209.6 957.5,211.8 960.0,213.8" fill="none" stroke="#0a62a2" stroke-width="2.5" stroke-linejoin="round" stroke-linecap="butt"/>
<polyline points="567.3,214.5 567.3,212.2 567.3,209.6 567.3,207.0 567.4,203.6 567.4,201.4 567.4,198.6 567.4,196.1 567.4,193.1 567.4,190.5 567.4,188.1 567.4,185.3 567.5,182.9 567.5,179.8 567.5,177.3 567.5,175.2 567.6,172.1 567.7,169.4 567.7,166.8 567.8,163.7 567.9,160.6 570.5,158.3 573.0,156.6 575.6,155.1 578.0,154.2 580.4,153.5 582.8,152.0 585.2,151.4 588.4,150.3 591.6,149.7 594.8,148.9 597.5,148.3 600.2,147.7 602.9,147.6 605.6,147.5 608.3,147.0 610.9,146.6 613.4,146.5 616.0,145.9 618.6,145.6 621.1,145.5 623.7,145.7 626.4,144.9 629.2,144.5 631.9,144.2 634.7,143.9 637.4,143.8 640.2,143.8 642.9,143.8 645.7,143.5 648.4,143.6 651.2,143.7 653.9,143.8 656.7,144.4 659.4,144.3 662.2,144.2 664.9,144.0 667.7,144.7 670.4,144.6 673.2,144.7 675.9,144.2 678.7,144.4 681.4,144.8 684.1,144.4 686.9,144.5 689.6,143.7 692.4,144.3 695.1,143.4 697.9,143.6 700.6,143.1 703.1,143.8 705.6,143.7 708.1,143.9 710.6,143.8 713.1,143.9 715.6,143.5 718.1,143.9 720.6,143.7 723.1,143.4 725.6,143.9 728.2,143.4 730.7,143.2 733.3,143.1 735.8,143.5 738.4,143.2 740.9,143.9 743.5,143.9 746.1,143.4 748.8,143.5 751.5,144.1 754.1,143.9 756.8,144.4 759.4,144.8 762.1,144.5 764.7,144.8 767.3,145.5 770.0,145.4 772.6,145.5 775.2,146.3 777.9,146.5 780.5,146.8 783.2,146.9 785.8,146.9 788.4,147.4 791.1,147.8 793.8,148.0 796.4,147.9 799.0,148.2 801.7,148.6 804.4,149.2 807.0,149.3 809.6,149.5 812.3,150.0 814.9,149.6 817.5,150.4 820.2,150.4 822.8,150.8 825.5,151.3 828.1,151.1 830.8,152.1 833.4,151.7 836.0,152.5 838.7,152.9 841.4,153.0 844.0,153.7 846.6,154.0 849.3,154.4 851.9,155.0 854.4,154.8 857.0,155.6 859.5,156.4 862.1,156.3 864.6,157.4 867.2,157.2 869.8,158.1 872.3,158.1 874.9,158.8 877.4,159.2 880.0,159.3 882.5,160.6 885.0,161.1 887.5,162.0 890.0,162.5 892.5,163.6 895.0,164.5 897.5,165.3 900.0,166.9 902.5,167.1 905.0,169.1 907.5,170.3 910.0,171.3 912.5,172.8 915.0,174.0 917.5,175.4 920.0,176.6 922.5,178.1 925.0,179.7 927.5,181.1 929.5,183.2 931.5,184.2 933.5,185.7 935.5,187.2 937.5,189.1 939.1,191.0 940.6,193.2 942.2,195.1 943.8,197.3 944.7,199.6 945.6,202.2 946.6,204.8 947.5,207.8 950.0,210.0 952.5,212.1 955.0,213.1 957.5,213.4 960.0,214.3" fill="none" stroke="#cc561c" stroke-width="2.2" stroke-linejoin="round" stroke-linecap="butt"/>
<rect x="570.6" y="14.4" width="67.1" height="37.0" fill="#fff" stroke="#777" stroke-width="1"/>
<path d="M572.0,23.700000000000003 h8.4" stroke="#0a62a2" stroke-width="1.9"/>
<path d="M572.4,41.4 h8" stroke="#cc561c" stroke-width="1.9"/>
<text x="583.4" y="30.6" text-anchor="start" font-size="19.3" textLength="50.4" lengthAdjust="spacingAndGlyphs">T cells</text>
<text x="584.4" y="48.4" text-anchor="start" font-size="19.3" textLength="50.8" lengthAdjust="spacingAndGlyphs">B cells</text>
<text x="518.9" y="77.2" text-anchor="middle" font-size="19.3">Immune</text>
<text x="518.9" y="99.5" text-anchor="middle" font-size="19.3">cells</text>
<text x="561.7" y="48.7" text-anchor="end" font-size="19.3">10</text>
<text x="561.7" y="134.4" text-anchor="end" font-size="19.3">5</text>
<text x="561.7" y="220.3" text-anchor="end" font-size="19.3">0</text>
<text x="569" y="237.8" text-anchor="middle" font-size="19.3">100</text>
<text x="775.6" y="237.8" text-anchor="middle" font-size="19.3">50</text>
<text x="892.2" y="237.8" text-anchor="start" font-size="19.3">% beta</text>
<text x="892.2" y="260.2" text-anchor="start" font-size="19.3">cell mass</text>
<text x="832.1" y="28.6" text-anchor="start" font-size="19.3" textLength="126.5" lengthAdjust="spacingAndGlyphs">High chemokine</text>
<polygon points="84.0,473.0 84.0,471.0 84.0,468.6 84.0,466.2 84.0,465.0 84.0,462.3 84.0,460.3 84.0,458.4 84.0,456.7 84.0,455.1 84.0,452.3 84.0,451.0 84.0,448.9 84.0,445.8 84.0,443.5 84.0,441.6 84.0,440.5 85.4,438.4 86.0,436.8 86.6,434.7 87.2,432.2 87.8,429.9 88.4,427.1 89.0,424.9 89.6,423.9 90.2,421.6 90.8,419.6 91.4,417.2 92.1,415.3 92.7,413.1 93.3,411.4 93.9,408.2 95.1,406.9 96.3,404.8 97.5,403.7 98.7,402.0 99.9,399.3 101.1,397.2 102.3,395.6 103.6,394.2 105.0,393.2 106.3,391.1 107.6,390.0 108.9,387.8 110.2,386.5 111.6,384.4 112.9,383.5 114.2,381.7 115.6,380.6 116.9,379.2 118.2,377.0 119.5,374.8 120.8,374.4 122.2,372.8 123.5,370.6 125.4,368.7 127.2,367.5 129.1,364.7 130.7,363.2 132.3,362.5 133.8,361.0 135.4,359.6 137.0,358.4 138.6,356.6 140.2,355.0 141.8,353.3 143.3,351.9 144.9,350.7 146.5,349.4 148.1,348.4 150.0,347.6 152.0,346.8 153.9,345.9 155.8,345.6 157.7,344.6 159.7,344.5 161.6,343.6 163.5,343.0 165.4,341.9 167.4,341.4 169.3,341.0 171.3,340.9 173.4,339.9 175.4,339.2 177.5,339.3 179.5,338.1 181.6,337.9 183.6,337.1 185.7,337.4 187.7,336.6 189.8,336.3 191.8,336.5 193.9,335.8 195.9,334.6 198.0,334.7 200.0,333.7 202.1,334.0 204.2,332.6 206.3,332.2 208.5,330.5 210.6,330.4 212.7,328.6 214.8,329.9 216.9,329.5 219.0,329.3 221.2,330.7 223.3,330.9 225.4,330.2 227.5,331.0 229.6,331.1 231.8,330.9 233.9,331.6 236.0,332.6 238.1,332.0 240.1,331.9 242.0,331.3 244.0,330.7 246.0,329.8 248.0,329.6 249.9,328.2 251.9,327.7 253.9,327.1 255.9,325.9 257.8,325.9 259.8,325.6 261.8,324.7 263.8,323.5 265.7,323.0 267.7,322.7 269.8,322.0 271.9,322.0 274.0,322.6 276.2,321.5 278.3,321.4 280.4,321.3 282.5,321.6 284.6,320.7 286.7,321.5 288.9,321.2 291.0,321.3 293.1,321.1 295.2,320.9 297.1,320.0 299.0,319.1 300.9,318.8 302.8,317.6 304.8,317.1 306.7,317.1 308.6,316.3 310.5,315.1 312.4,314.9 314.3,314.4 316.4,314.0 318.5,314.7 320.7,314.1 322.8,314.2 324.9,314.6 327.0,314.5 329.1,315.2 331.2,314.9 333.4,314.8 335.5,315.7 337.6,315.8 339.7,315.9 341.8,315.3 343.9,315.8 346.1,315.8 348.2,317.0 350.3,316.8 352.4,316.6 354.5,318.0 356.6,316.5 358.7,316.1 360.9,316.9 363.0,316.0 365.1,316.2 367.2,315.8 369.2,315.2 371.3,315.6 373.4,316.0 375.5,315.0 377.6,316.0 379.6,315.4 381.7,315.7 383.8,315.4 385.9,316.0 387.9,315.6 390.0,315.5 392.1,315.2 394.2,316.3 396.2,315.7 398.3,316.4 400.4,315.8 402.5,316.1 404.6,317.0 406.6,316.7 408.7,317.3 410.8,317.6 411.9,318.8 413.1,320.8 414.2,322.3 415.4,323.6 416.6,326.4 417.7,327.7 418.5,330.1 419.2,331.7 420.0,333.6 420.8,334.8 421.5,337.5 422.3,339.1 423.1,340.8 423.8,342.5 424.6,344.6 425.0,346.4 425.5,349.3 425.9,350.9 426.3,352.5 426.8,355.2 427.2,357.6 427.6,359.7 428.1,360.5 428.5,363.3 428.9,365.3 429.4,367.2 429.8,369.0 430.3,371.1 430.8,372.9 431.3,375.0 431.8,376.6 432.3,379.3 432.8,381.5 433.3,383.7 435.4,384.1 437.6,385.1 439.8,386.4 441.9,387.3 444.1,389.2 446.4,389.5 448.0,392.5 449.7,395.5 451.0,396.9 452.4,398.5 453.7,400.3 455.1,401.7 456.4,403.7 458.6,403.9 460.8,403.9 463.0,404.3 464.2,407.6 465.5,408.5 466.8,411.2 468.0,413.7 471.3,415.3 473.6,413.5 475.8,410.9 475.8,412.9 475.8,415.6 475.8,417.1 475.8,419.3 475.8,421.4 475.8,424.2 475.8,426.3 475.8,428.3 475.8,430.5 475.8,432.5 475.8,433.6 475.8,436.8 475.8,437.9 475.8,440.5 475.8,442.7 475.8,443.9 475.8,446.9 475.8,448.6 475.8,450.7 475.8,452.3 475.8,454.9 475.8,456.2 475.8,458.4 475.8,461.0 475.8,463.3 475.8,464.9 475.8,466.9 475.8,468.3 475.8,470.9 475.8,473.0 475.8,473.0 473.9,472.7 472.0,471.2 470.1,470.7 468.2,469.6 466.3,469.3 464.4,469.1 462.4,467.4 460.5,466.6 458.6,466.3 456.7,465.0 454.8,464.8 452.9,463.4 451.0,463.6 449.1,462.6 447.2,462.2 445.3,461.2 443.4,459.7 441.4,459.0 439.5,458.3 437.6,458.0 435.7,456.9 433.8,456.8 431.9,455.9 430.0,455.4 428.1,453.5 426.3,452.7 424.4,452.0 422.5,451.0 420.7,449.6 418.8,449.8 416.9,448.3 415.1,447.2 413.2,446.1 411.4,445.3 409.5,444.6 407.6,443.8 405.8,442.6 403.9,441.6 402.0,439.8 400.1,439.8 398.3,438.4 396.4,437.5 394.5,437.7 392.6,436.3 390.8,434.8 388.9,435.0 387.0,434.0 385.1,432.9 383.1,432.8 381.2,431.1 379.3,430.9 377.4,431.1 375.4,429.2 373.5,429.1 371.6,427.9 369.7,427.9 367.7,427.7 365.8,425.8 363.9,425.4 362.0,424.5 360.0,423.6 358.1,423.9 356.2,422.8 354.3,422.1 352.4,420.5 350.5,420.6 348.5,418.9 346.6,418.8 344.7,418.5 342.6,418.1 340.5,416.9 338.3,416.9 336.2,416.6 334.1,417.3 332.0,416.4 329.8,416.9 327.7,416.8 325.6,417.1 323.5,416.5 321.3,416.0 319.2,415.4 317.1,415.8 315.2,417.2 313.3,418.3 311.4,419.2 309.5,420.1 307.6,421.2 305.7,421.7 303.8,422.8 301.9,423.2 300.0,424.3 298.1,425.4 296.0,425.0 293.9,426.1 291.8,426.2 289.6,426.2 287.5,427.0 285.4,428.4 283.3,427.7 281.2,428.7 279.1,429.4 277.0,428.7 274.8,430.4 272.7,430.2 270.6,430.4 268.5,431.3 266.4,432.0 264.2,432.1 262.1,432.7 260.0,432.1 258.0,433.5 255.9,432.6 253.9,432.9 251.8,433.2 249.8,433.9 247.7,433.0 245.7,433.9 243.6,433.7 241.6,433.5 239.5,434.9 237.5,434.5 235.4,434.5 233.4,435.1 231.3,434.5 229.3,434.8 227.2,435.4 225.1,435.7 223.0,435.9 220.9,436.2 218.7,436.1 216.6,436.7 214.5,436.5 212.4,436.6 210.3,438.5 208.2,437.8 206.0,438.9 203.9,440.0 201.8,439.8 199.8,441.1 197.8,440.6 195.8,441.8 193.8,442.1 191.8,442.0 189.8,443.2 187.9,443.1 185.9,443.9 183.9,444.7 181.9,444.6 179.9,445.5 177.9,446.3 175.9,446.2 173.9,446.9 171.9,447.4 169.9,447.1 167.9,448.5 165.9,448.8 163.9,449.4 162.0,448.8 160.0,449.6 158.0,449.5 156.0,450.8 154.0,450.5 152.0,452.1 150.0,452.2 148.1,451.9 146.1,453.1 144.2,453.5 142.2,454.5 140.3,454.4 138.4,455.8 136.4,456.5 134.5,457.0 132.5,458.0 130.6,458.5 128.6,458.6 126.7,459.1 124.8,459.4 122.8,460.1 120.9,461.7 118.9,462.5 117.0,463.1 115.1,463.0 113.1,464.1 111.2,464.2 109.2,464.7 107.3,465.7 105.4,466.5 103.4,466.3 101.5,467.5 99.5,467.9 97.6,468.9 95.6,469.3 93.7,470.4 91.8,471.0 89.8,471.3 87.9,471.2 85.9,472.6 84.0,473.0" fill="#aad2e9"/>
<polygon points="84.0,473.0 84.0,470.3 84.0,468.5 84.0,466.8 84.0,465.3 84.0,462.5 84.0,460.5 86.0,457.6 87.6,456.5 89.2,453.7 90.8,452.6 93.0,451.8 95.1,450.3 97.3,450.1 99.4,449.3 101.6,448.5 103.7,449.0 105.9,447.4 108.0,446.9 110.2,447.9 112.3,446.8 114.5,446.3 116.7,446.3 118.9,446.2 121.2,446.8 123.4,445.6 125.6,445.5 127.8,445.8 130.0,445.6 132.1,445.8 134.2,445.3 136.3,444.3 138.4,443.8 140.5,444.3 142.6,444.2 144.7,442.5 146.7,443.4 148.7,443.6 150.7,443.2 152.8,442.5 154.8,443.2 156.8,443.0 158.8,442.2 160.8,442.7 162.8,442.1 164.8,441.7 166.9,442.1 168.9,442.0 170.9,442.0 172.9,442.3 174.9,442.5 176.9,442.6 178.9,442.5 181.0,442.4 183.0,442.1 185.0,441.3 187.0,441.0 189.0,441.6 191.0,441.5 193.0,441.6 195.1,440.7 197.1,440.8 199.1,441.8 201.1,441.3 203.1,441.4 205.1,440.5 207.1,440.8 209.2,441.5 211.2,441.1 213.2,441.5 215.2,440.3 217.2,440.7 219.2,441.1 221.2,440.5 223.3,441.0 225.3,440.6 227.3,439.9 229.3,439.8 231.3,441.0 233.4,439.8 235.4,439.9 237.5,440.1 239.5,440.6 241.6,440.7 243.6,440.2 245.7,440.2 247.7,440.6 249.8,439.8 251.8,439.9 253.9,440.2 255.9,440.2 258.0,439.4 260.0,439.5 262.0,439.5 264.1,440.3 266.1,440.3 268.2,440.7 270.2,440.4 272.3,439.7 274.3,440.4 276.4,440.7 278.4,439.8 280.5,439.3 282.5,439.9 284.6,439.7 286.6,439.6 288.7,439.4 290.7,439.5 292.8,440.6 294.8,439.4 296.9,440.2 298.9,439.7 301.0,439.6 303.0,440.5 305.1,439.8 307.1,439.6 309.2,440.0 311.2,440.4 313.3,440.1 315.3,440.6 317.4,440.0 319.4,440.1 321.5,440.4 323.5,440.0 325.5,440.5 327.5,440.2 329.5,439.7 331.6,439.8 333.6,440.8 335.6,440.8 337.6,441.1 339.6,440.8 341.6,440.7 343.6,440.2 345.7,441.2 347.7,440.2 349.7,440.7 351.7,440.3 353.7,440.7 355.7,440.7 357.7,440.9 359.8,441.3 361.8,441.2 363.8,440.8 365.8,441.6 367.8,441.7 369.8,442.0 371.9,441.1 373.9,442.1 375.9,442.6 377.9,441.9 379.9,442.0 381.9,443.0 383.9,442.6 386.0,442.8 388.0,443.6 390.0,443.1 392.1,443.0 394.1,443.2 396.1,443.6 398.2,444.2 400.2,443.9 402.3,444.6 404.4,443.8 406.4,444.2 408.4,444.9 410.5,444.8 412.6,445.0 414.6,445.8 416.6,445.0 418.7,445.1 421.0,445.2 423.4,446.2 425.7,446.3 428.0,447.0 430.0,447.1 432.0,447.9 433.9,449.2 435.9,450.6 437.9,450.7 439.9,452.4 441.9,452.8 443.9,453.3 446.0,454.7 448.0,454.8 450.0,456.1 452.3,457.3 454.6,457.7 456.9,458.1 459.2,458.6 461.3,459.4 463.4,458.9 465.4,459.3 467.5,459.6 469.6,460.3 471.6,460.0 473.7,459.8 475.8,460.4 475.8,461.8 475.8,464.1 475.8,466.7 475.8,468.7 475.8,470.4 475.8,473.0 475.8,473.8 473.8,474.0 471.8,473.2 469.8,474.3 467.8,473.5 465.8,473.3 463.7,473.4 461.7,473.7 459.7,474.3 457.7,474.2 455.7,473.6 453.7,473.3 451.7,473.3 449.7,473.7 447.7,474.4 445.7,474.1 443.7,474.0 441.6,474.3 439.6,474.1 437.6,474.4 435.6,473.2 433.6,474.1 431.6,474.5 429.6,474.3 427.6,473.2 425.6,473.3 423.6,474.3 421.6,474.5 419.5,473.5 417.5,473.8 415.5,473.1 413.5,473.1 411.5,473.8 409.5,473.9 407.5,474.3 405.5,473.9 403.5,473.8 401.5,473.6 399.4,473.2 397.4,473.3 395.4,473.7 393.4,473.4 391.4,473.5 389.4,474.5 387.4,473.7 385.4,474.3 383.4,474.3 381.4,473.6 379.4,474.5 377.3,473.9 375.3,473.4 373.3,473.9 371.3,474.1 369.3,473.7 367.3,473.7 365.3,473.7 363.3,474.2 361.3,473.5 359.3,473.6 357.3,473.6 355.2,473.8 353.2,474.4 351.2,473.2 349.2,474.0 347.2,474.2 345.2,473.6 343.2,474.4 341.2,473.9 339.2,474.3 337.2,473.2 335.2,473.6 333.1,473.4 331.1,474.0 329.1,473.4 327.1,473.8 325.1,473.8 323.1,473.2 321.1,473.7 319.1,473.6 317.1,473.9 315.1,473.3 313.1,473.2 311.0,474.0 309.0,473.4 307.0,474.2 305.0,474.0 303.0,473.3 301.0,473.5 299.0,473.6 297.0,473.9 295.0,474.1 293.0,473.7 291.0,473.4 288.9,473.7 286.9,474.0 284.9,473.7 282.9,473.5 280.9,474.2 278.9,474.0 276.9,473.5 274.9,474.0 272.9,474.1 270.9,473.2 268.8,474.4 266.8,473.8 264.8,473.2 262.8,473.4 260.8,473.5 258.8,473.1 256.8,473.7 254.8,473.5 252.8,473.4 250.8,474.0 248.8,474.1 246.7,473.2 244.7,473.1 242.7,474.0 240.7,474.1 238.7,473.1 236.7,473.5 234.7,474.1 232.7,473.9 230.7,474.2 228.7,473.8 226.7,473.3 224.6,473.3 222.6,474.2 220.6,473.9 218.6,473.9 216.6,473.3 214.6,474.0 212.6,473.7 210.6,473.3 208.6,473.4 206.6,474.5 204.6,474.4 202.5,473.6 200.5,473.9 198.5,474.3 196.5,473.8 194.5,474.1 192.5,473.1 190.5,474.3 188.5,474.2 186.5,474.4 184.5,473.7 182.5,474.3 180.4,473.1 178.4,474.1 176.4,473.4 174.4,474.1 172.4,473.4 170.4,473.6 168.4,473.3 166.4,474.1 164.4,473.7 162.4,473.5 160.4,473.5 158.3,473.7 156.3,473.7 154.3,473.4 152.3,473.5 150.3,474.2 148.3,473.2 146.3,474.4 144.3,474.1 142.3,473.5 140.3,473.8 138.2,473.1 136.2,474.0 134.2,474.4 132.2,474.1 130.2,473.9 128.2,473.6 126.2,473.1 124.2,473.8 122.2,473.3 120.2,473.8 118.2,474.0 116.1,473.4 114.1,473.9 112.1,474.4 110.1,473.8 108.1,474.1 106.1,473.6 104.1,473.5 102.1,473.6 100.1,473.3 98.1,474.0 96.1,473.6 94.0,474.1 92.0,473.2 90.0,474.1 88.0,473.7 86.0,474.0 84.0,473.8" fill="#f3c7b4"/>
<path d="M82.5,267.7 V473.3 H476" fill="none" stroke="#7a7a7a" stroke-width="1.5"/>
<path d="M82.5,267.7 h4" stroke="#7a7a7a" stroke-width="1.5"/>
<path d="M82.5,370.2 h4" stroke="#7a7a7a" stroke-width="1.5"/>
<path d="M82.5,473.3 h4" stroke="#7a7a7a" stroke-width="1.5"/>
<path d="M310.5,473.3 v-4" stroke="#7a7a7a" stroke-width="1.5"/>
<polyline points="83.5,473.0 85.4,471.3 88.6,469.3 90.8,465.1 91.8,462.4 92.9,458.8 96.2,456.3 98.9,453.8 101.6,452.3 103.0,450.5 104.5,448.1 105.9,446.3 107.7,444.1 109.5,441.5 111.3,439.0 113.1,437.5 114.8,434.7 116.6,432.5 118.3,429.9 120.0,426.8 122.1,424.2 124.2,421.8 126.3,418.5 128.4,416.3 130.4,414.3 132.5,412.9 135.7,410.3 138.8,408.5 140.9,406.9 142.9,405.5 145.0,404.0 148.2,402.7 151.3,401.0 154.4,399.2 157.5,397.9 160.0,396.6 162.5,396.6 165.0,395.9 167.5,395.1 170.0,394.5 172.5,393.7 175.0,392.6 178.2,392.6 181.3,392.9 183.8,391.8 186.3,390.9 188.8,390.4 191.9,389.0 195.0,387.7 197.5,387.8 200.0,387.8 203.1,386.2 206.2,385.1 209.3,383.3 212.4,382.0 215.6,382.6 218.7,382.2 221.8,382.6 224.9,382.9 227.4,382.1 229.9,381.4 233.0,382.6 236.1,384.7 239.8,384.5 242.3,383.5 244.8,381.8 247.6,381.9 250.4,381.5 253.2,380.9 256.0,380.5 258.5,379.6 261.0,378.5 263.5,377.8 266.0,377.3 268.5,375.9 271.6,375.6 274.7,374.3 277.8,374.1 280.9,374.0 284.0,374.1 287.1,374.0 289.6,374.1 292.1,373.9 294.6,373.9 296.5,372.9 298.3,370.7 300.8,370.6 303.3,370.0 305.8,369.1 308.9,368.2 312.0,366.6 314.8,364.9 317.5,363.3 320.4,364.6 323.3,365.5 326.2,366.7 329.1,365.6 332.0,365.3 334.9,364.7 338.0,364.0 341.1,364.6 344.0,365.0 346.9,365.6 349.8,366.6 353.0,367.9 356.1,370.2 359.2,369.8 362.3,371.0 364.8,369.9 367.3,369.3 370.1,370.7 372.9,371.2 375.7,371.9 378.5,372.6 381.6,373.5 384.7,374.6 387.2,375.1 389.7,376.1 392.1,376.5 394.6,376.2 397.1,376.7 399.6,377.8 402.1,379.2 404.6,379.5 407.1,382.0 409.6,383.4 411.7,385.7 413.7,387.5 415.8,389.5 417.2,392.5 418.5,394.4 419.9,397.0 420.9,399.2 421.9,401.5 422.9,403.2 423.9,406.0 424.9,408.6 425.7,411.1 426.5,413.6 427.4,416.6 428.2,420.2 428.8,423.1 429.4,425.4 430.1,428.3 430.7,431.6 431.3,434.3 431.9,436.9 432.6,440.5 433.2,443.1 434.4,445.8 435.7,448.4 437.8,450.5 439.8,452.3 442.3,452.2 444.8,452.5 446.5,455.6 448.1,458.3 450.6,456.1 452.6,458.7 454.7,461.3 455.9,463.7 457.2,465.9 460.1,464.7 463.0,463.4 464.6,466.7 467.1,467.4 469.6,468.5 472.7,469.5 475.8,471.0" fill="none" stroke="#0a62a2" stroke-width="2.5" stroke-linejoin="round" stroke-linecap="butt"/>
<polyline points="83.0,473.0 83.6,470.7 86.1,469.1 88.6,467.7 91.1,466.5 93.7,466.1 96.2,465.7 98.9,465.2 101.6,464.2 104.2,464.2 106.9,463.7 109.6,463.5 112.3,463.8 115.0,463.3 117.7,463.1 120.8,463.3 123.8,462.8 126.9,462.2 130.0,462.0 132.9,462.1 135.9,461.6 138.8,461.9 141.8,461.9 144.7,461.5 147.3,461.8 150.0,461.8 152.6,461.4 155.3,461.5 157.9,460.9 160.6,460.8 163.2,461.6 165.8,460.9 168.5,460.7 171.1,461.3 173.8,461.1 176.4,460.4 179.1,460.5 181.7,460.4 184.4,460.4 187.0,460.1 189.6,460.5 192.3,460.3 194.9,460.4 197.6,460.2 200.2,460.1 202.9,460.1 205.5,460.8 208.2,460.7 210.8,460.6 213.4,460.2 216.1,460.2 218.7,460.2 221.4,460.3 224.0,460.1 226.7,460.3 229.3,460.2 231.9,460.2 234.4,460.5 237.0,460.3 239.5,460.2 242.1,460.1 244.7,460.2 247.2,460.3 249.8,459.9 252.3,459.6 254.9,459.9 257.4,459.7 260.0,460.1 262.5,459.4 265.1,460.1 267.6,459.4 270.2,459.8 272.7,459.7 275.2,459.6 277.8,460.2 280.3,460.0 282.9,459.5 285.4,459.8 287.9,459.9 290.5,459.4 293.0,459.4 295.6,459.9 298.1,460.0 300.6,459.8 303.2,459.7 305.7,459.8 308.3,459.6 310.8,460.1 313.3,460.2 315.9,459.8 318.4,459.4 321.0,459.7 323.5,460.1 326.1,459.7 328.8,459.5 331.4,459.6 334.1,460.1 336.7,460.0 339.4,459.8 342.0,460.1 344.6,460.2 347.3,460.4 349.9,460.3 352.6,460.0 355.2,460.4 357.9,460.5 360.5,460.5 363.2,460.4 365.8,460.3 368.4,460.3 371.1,460.7 373.7,460.6 376.4,460.8 379.0,460.5 381.7,460.5 384.3,460.7 387.0,461.1 389.6,461.2 392.2,461.0 394.9,461.1 397.5,461.9 400.2,461.2 402.8,462.1 405.5,462.0 408.1,462.0 410.6,462.9 413.2,463.1 415.7,463.0 418.3,464.4 420.8,464.4 423.6,466.3 426.5,467.6 429.3,468.4 431.8,468.8 434.2,469.3 436.7,470.6 439.2,471.1 441.6,471.1 444.1,471.6 446.8,471.9 449.4,472.5 452.1,472.6 454.7,472.9 457.4,473.2 460.0,473.1 462.6,473.2 465.3,472.5 467.9,472.5 470.5,473.3 473.2,473.1 475.8,473.0" fill="none" stroke="#cc561c" stroke-width="2.2" stroke-linejoin="round" stroke-linecap="butt"/>
<rect x="90.6" y="295.6" width="67.1" height="36.6" fill="#fff" stroke="#777" stroke-width="1"/>
<path d="M92.0,304.90000000000003 h8.4" stroke="#0a62a2" stroke-width="1.9"/>
<path d="M92.39999999999999,322.6 h8" stroke="#cc561c" stroke-width="1.9"/>
<text x="103.39999999999999" y="311.8" text-anchor="start" font-size="19.3" textLength="50.4" lengthAdjust="spacingAndGlyphs">T cells</text>
<text x="104.39999999999999" y="329.6" text-anchor="start" font-size="19.3" textLength="50.8" lengthAdjust="spacingAndGlyphs">B cells</text>
<text x="33.5" y="298.4" text-anchor="middle" font-size="19.3">Immune</text>
<text x="33.5" y="320.6" text-anchor="middle" font-size="19.3">cells</text>
<text x="77.7" y="273.2" text-anchor="end" font-size="19.3">10</text>
<text x="77.7" y="375.6" text-anchor="end" font-size="19.3">5</text>
<text x="77.7" y="478.7" text-anchor="end" font-size="19.3">0</text>
<text x="81.5" y="495.2" text-anchor="middle" font-size="19.3">100</text>
<text x="309.9" y="495.2" text-anchor="middle" font-size="19.3">50</text>
<text x="399.3" y="495.3" text-anchor="start" font-size="19.3">% beta</text>
<text x="399.3" y="517.7" text-anchor="start" font-size="19.3">cell mass</text>
<text x="88.9" y="290.0" text-anchor="start" font-size="19.3" textLength="125.8" lengthAdjust="spacingAndGlyphs">High killing rate</text>
<polygon points="567.5,473.0 567.5,470.6 567.5,468.9 567.5,465.3 567.8,463.6 568.2,462.4 568.5,459.9 568.9,457.0 569.2,455.2 569.5,453.9 569.9,451.2 570.2,448.6 570.6,447.8 570.9,444.7 571.3,443.3 571.6,441.3 572.0,439.0 572.3,437.6 573.0,434.5 573.7,433.0 574.4,430.3 575.1,429.4 575.7,426.2 576.4,424.7 577.1,423.1 577.8,421.1 578.5,417.9 579.5,417.3 580.5,415.5 581.6,413.1 582.6,412.0 583.6,409.5 584.6,407.7 585.7,406.0 586.7,404.5 587.7,403.5 589.0,401.2 590.3,400.2 591.6,398.3 593.0,395.6 594.3,394.2 595.6,391.9 596.9,390.9 598.4,389.6 600.0,388.2 601.5,386.2 603.0,385.6 604.6,383.5 606.1,383.2 607.7,381.3 609.2,379.4 610.7,379.3 612.3,377.9 613.8,375.7 615.4,375.2 616.9,372.9 618.4,371.9 620.0,370.7 621.5,369.6 623.4,367.4 625.4,366.3 627.3,365.3 629.2,364.4 631.1,363.9 633.0,362.6 635.0,360.6 636.9,360.3 638.8,358.4 640.8,357.0 642.7,356.5 644.6,356.0 646.5,354.8 648.4,353.0 650.4,352.4 652.3,350.4 654.2,349.3 656.1,349.5 658.1,348.1 660.0,346.4 661.9,345.7 663.9,345.3 665.8,343.4 667.7,342.6 669.8,342.5 671.8,340.7 673.9,340.0 675.9,339.1 678.0,338.2 680.0,337.0 682.0,336.4 684.0,336.7 685.9,336.1 687.9,335.9 689.9,334.1 691.9,333.8 693.9,334.2 695.9,333.0 697.8,333.2 699.8,332.0 701.8,331.6 703.8,331.5 705.8,330.6 707.7,330.2 709.7,329.1 711.7,329.7 713.7,328.8 715.7,327.7 717.8,327.5 719.8,327.2 721.8,327.0 723.8,325.2 725.8,325.9 727.9,324.9 729.9,323.5 731.9,323.4 733.9,323.4 735.9,322.0 737.9,322.1 740.0,321.5 742.0,320.9 744.0,319.6 746.0,319.1 748.0,319.8 750.1,318.1 752.1,317.6 754.1,317.6 756.1,316.6 758.1,317.3 760.1,317.1 762.2,316.3 764.2,316.4 766.2,316.0 768.2,316.0 770.2,315.0 772.2,314.6 774.2,314.4 776.3,315.3 778.3,315.2 780.3,313.9 782.3,314.3 784.3,313.3 786.3,313.6 788.3,313.1 790.4,313.0 792.4,313.3 794.4,313.0 796.4,312.8 798.5,312.4 800.6,311.6 802.7,310.9 804.9,311.5 807.0,311.0 809.1,310.0 811.2,310.1 813.3,309.3 815.4,310.1 817.5,310.0 819.6,308.4 821.8,309.0 823.9,309.1 826.0,308.8 828.1,308.3 830.4,307.3 832.6,307.8 834.9,307.3 837.2,307.5 839.5,307.0 841.7,306.7 844.0,307.0 846.1,306.5 848.2,306.6 850.4,307.4 852.5,307.7 854.6,306.9 856.7,307.0 858.8,307.6 861.0,307.2 863.1,308.5 865.2,307.7 867.3,307.5 869.4,308.4 871.5,308.7 873.6,308.7 875.8,309.2 877.9,308.7 880.0,309.0 882.1,309.8 884.2,309.2 886.3,310.0 888.2,310.3 890.2,311.6 892.1,311.9 894.0,312.6 895.9,312.7 897.9,313.6 899.8,314.1 901.7,314.7 903.6,315.5 905.6,315.9 907.5,316.9 909.4,317.1 911.3,317.5 913.1,318.0 915.0,318.7 916.9,319.3 918.8,320.1 920.6,321.7 922.5,322.3 924.4,322.5 926.2,324.3 927.9,324.6 929.7,325.9 931.5,327.3 933.2,327.7 935.0,329.1 936.6,330.8 938.2,333.2 939.8,334.3 941.4,336.5 942.0,339.0 942.6,341.1 943.2,343.6 943.8,344.9 944.4,347.3 945.0,348.9 945.6,351.2 945.9,353.9 946.2,356.3 946.5,357.6 946.8,359.3 947.1,362.2 947.3,363.5 947.6,365.9 947.9,367.7 948.2,370.7 948.5,373.0 948.8,374.2 949.0,377.1 949.1,378.7 949.3,380.9 949.5,383.2 949.7,385.2 949.8,387.4 950.0,389.2 950.2,391.5 950.4,394.2 950.5,395.4 950.7,397.9 950.9,399.6 951.1,401.8 951.4,403.6 951.6,406.4 951.8,407.9 952.0,409.4 952.3,412.4 952.5,413.9 955.1,413.5 957.8,414.1 960.4,413.5 960.4,416.1 960.4,418.4 960.4,420.0 960.4,421.9 960.4,424.0 960.4,425.7 960.4,428.5 960.4,430.0 960.4,431.9 960.4,434.9 960.4,436.9 960.4,438.0 960.4,440.6 960.4,442.0 960.4,444.2 960.4,446.4 960.4,448.0 960.4,449.9 960.4,453.1 960.4,454.5 960.4,456.5 960.4,458.3 960.4,461.3 960.4,463.3 960.4,464.3 960.4,467.5 960.4,468.6 960.4,470.4 960.4,473.0 960.4,425.0 958.3,425.2 956.2,424.7 954.1,425.4 952.0,424.9 950.2,424.4 948.5,422.9 946.8,421.7 945.0,419.6 944.1,417.7 943.1,415.9 942.2,414.6 941.2,413.1 940.3,411.1 939.4,408.5 938.4,406.7 937.5,405.3 936.6,403.6 935.6,401.9 934.7,398.8 933.8,397.3 932.8,395.7 931.9,394.4 930.9,391.6 930.0,390.0 928.0,390.3 926.0,388.8 924.0,389.3 922.0,389.2 920.0,388.6 918.0,387.9 916.0,387.8 914.0,387.7 912.0,387.1 910.0,386.8 908.0,386.6 906.0,386.5 904.0,386.1 902.0,384.7 900.0,385.0 898.0,385.0 896.0,385.0 894.0,386.2 892.0,385.8 890.0,387.1 888.0,387.4 886.0,387.4 884.0,387.5 882.0,387.4 880.0,387.9 878.0,388.2 876.0,388.0 874.0,388.2 872.0,388.7 870.0,389.9 868.0,389.4 866.0,389.6 864.0,390.4 862.0,391.1 860.0,391.4 858.0,390.7 856.0,392.0 854.0,392.0 852.0,392.1 850.0,393.0 848.0,393.2 846.0,393.0 844.0,392.9 842.0,394.4 840.0,393.5 838.0,394.3 836.0,395.1 834.0,394.6 832.0,395.0 830.0,395.4 828.0,396.4 826.0,396.2 824.0,396.4 822.0,396.1 820.0,397.7 818.0,397.5 816.0,398.0 814.0,398.0 812.0,398.2 810.0,399.1 808.0,398.4 806.0,399.2 804.0,398.8 802.0,399.1 800.0,399.5 798.0,399.9 796.1,400.6 794.1,402.0 792.2,402.5 790.2,402.2 788.2,403.5 786.3,403.9 784.3,403.3 782.4,403.7 780.4,405.0 778.4,405.4 776.5,406.3 774.5,406.8 772.5,406.9 770.6,407.4 768.6,407.4 766.7,407.7 764.7,408.2 762.7,408.7 760.8,409.3 758.8,409.6 756.9,410.5 754.9,411.1 752.9,411.5 751.0,412.7 749.0,412.2 747.1,412.7 745.1,414.3 743.1,413.8 741.2,415.0 739.2,415.8 737.3,416.4 735.3,416.0 733.3,416.3 731.4,416.5 729.4,417.4 727.5,418.6 725.5,418.9 723.5,419.1 721.6,419.9 719.6,420.1 717.6,420.8 715.7,420.7 713.7,420.9 711.8,422.6 709.8,422.5 707.8,423.4 705.9,423.6 703.9,424.5 702.0,424.2 700.0,424.4 698.0,426.0 696.1,426.3 694.1,427.5 692.2,427.4 690.2,428.1 688.3,429.3 686.3,429.9 684.4,429.9 682.4,430.1 680.5,431.3 678.5,431.9 676.6,432.7 674.6,433.2 672.7,433.2 670.7,434.5 668.8,434.5 666.8,434.7 664.9,436.0 662.9,436.3 661.0,437.3 659.0,437.4 657.1,438.8 655.1,438.7 653.2,439.9 651.2,440.4 649.3,441.2 647.3,441.8 645.4,441.7 643.4,443.2 641.5,443.9 639.5,444.4 637.6,444.7 635.6,444.8 633.7,445.8 631.7,446.2 629.8,446.8 627.8,447.3 625.9,447.5 623.9,449.4 622.0,449.9 620.0,449.6 618.1,451.1 616.2,451.5 614.3,452.3 612.4,453.1 610.5,453.4 608.6,453.6 606.7,455.6 604.8,455.5 602.9,456.5 601.0,456.8 599.0,458.0 597.1,459.1 595.2,459.9 593.3,460.1 591.4,460.7 589.5,462.1 587.6,461.8 585.7,462.3 583.8,462.9 581.9,464.2 580.0,464.4 578.2,466.0 576.4,467.3 574.6,468.2 572.9,469.5 571.1,470.6 569.3,471.6 567.5,473.0" fill="#aad2e9"/>
<polygon points="567.5,473.0 567.5,469.8 568.3,467.5 569.0,465.4 569.8,464.4 570.6,461.8 572.5,460.1 574.4,458.0 576.0,455.8 577.6,454.4 579.2,452.2 580.8,451.2 582.4,449.8 584.0,448.8 585.9,447.2 587.9,445.9 589.8,444.9 591.7,444.7 593.8,443.2 595.9,443.2 597.9,442.4 600.0,440.9 602.1,440.9 604.1,438.8 606.2,439.0 608.1,438.0 610.0,436.2 611.9,435.9 613.9,435.0 615.8,433.2 617.7,433.0 619.6,431.2 621.5,431.4 623.4,430.1 625.4,429.5 627.3,427.2 629.2,426.6 631.1,426.1 633.0,425.1 635.0,423.5 636.9,423.5 638.8,422.9 640.8,421.6 642.7,420.8 644.6,421.0 646.5,420.1 648.4,419.9 650.4,419.1 652.3,418.4 654.2,417.1 656.1,416.4 658.1,416.1 660.0,415.7 661.9,414.5 663.9,414.2 665.8,413.1 667.7,412.8 669.8,411.8 671.8,410.5 673.9,409.5 675.9,408.6 678.0,407.8 680.0,408.2 681.9,407.4 683.7,406.4 685.6,404.7 687.5,404.6 689.4,403.1 691.2,403.3 693.1,402.2 695.0,401.5 696.8,400.5 698.7,399.4 700.7,399.3 702.6,398.8 704.6,397.2 706.6,396.8 708.5,396.5 710.5,395.8 712.5,394.8 714.4,394.2 716.4,394.2 718.4,392.6 720.3,391.9 722.3,391.9 724.3,390.7 726.2,391.0 728.2,389.6 730.2,389.8 732.1,388.4 734.1,388.5 736.1,387.8 738.0,387.1 740.0,385.8 742.1,385.1 744.1,384.3 746.2,383.9 748.2,384.0 750.3,382.5 752.4,382.2 754.4,382.0 756.5,380.9 758.5,380.5 760.6,379.7 762.6,379.8 764.7,378.4 766.7,379.0 768.7,377.9 770.7,377.5 772.8,376.7 774.8,376.1 776.8,376.2 778.8,375.6 780.8,374.9 782.8,373.2 784.8,373.5 786.9,373.4 788.9,372.4 790.9,371.7 792.9,371.3 794.9,370.1 796.9,370.3 798.9,369.8 801.0,368.3 803.0,368.3 805.0,367.9 807.0,367.0 809.1,367.0 811.1,366.9 813.2,366.4 815.2,365.1 817.3,364.4 819.3,364.9 821.4,364.1 823.4,363.9 825.5,363.5 827.6,362.2 829.6,362.2 831.7,361.3 833.7,361.5 835.8,360.9 837.8,359.8 839.9,359.7 841.9,359.4 844.0,358.4 846.0,358.2 848.0,358.4 850.0,357.6 852.1,358.0 854.1,358.4 856.1,358.1 858.1,356.8 860.1,357.7 862.1,357.3 864.1,357.1 866.2,355.9 868.2,356.8 870.2,355.8 872.2,356.4 874.2,355.6 876.2,355.4 878.2,354.9 880.3,355.7 882.3,354.6 884.3,355.3 886.3,354.6 888.4,354.0 890.5,354.6 892.6,354.4 894.8,353.6 896.9,354.6 899.0,353.8 901.1,353.3 903.2,354.3 905.3,354.2 907.5,353.6 909.6,353.2 911.7,353.6 913.8,353.6 915.9,354.4 918.1,354.7 920.2,355.4 922.3,356.2 924.4,356.1 926.6,356.7 928.7,357.7 930.4,359.8 932.1,361.5 933.7,363.3 935.4,364.4 937.1,366.5 938.2,367.4 939.2,369.6 940.3,370.9 941.4,373.7 942.4,375.7 943.5,377.0 944.1,379.3 944.7,380.8 945.3,383.6 945.9,384.7 946.5,387.2 947.1,389.3 947.7,392.1 948.2,393.2 948.8,395.3 949.3,397.3 949.8,400.5 949.9,401.8 950.0,404.7 950.1,406.0 950.3,408.8 950.4,410.0 950.5,413.1 950.6,415.2 950.7,417.2 950.9,419.0 951.0,421.4 951.1,423.5 951.2,425.6 953.5,424.7 955.8,425.5 958.1,425.4 960.4,424.8 960.4,426.5 960.4,429.6 960.4,431.0 960.4,433.0 960.4,435.5 960.4,437.0 960.4,438.7 960.4,441.3 960.4,443.0 960.4,444.7 960.4,447.3 960.4,449.6 960.4,450.6 960.4,453.4 960.4,455.4 960.4,457.0 960.4,458.6 960.4,461.2 960.4,462.7 960.4,464.7 960.4,467.5 960.4,468.7 960.4,471.0 960.4,471.0 958.1,472.0 955.8,471.3 953.5,472.5 951.2,473.1 950.9,470.8 950.7,468.3 950.4,466.6 950.2,464.3 949.9,461.7 949.7,460.5 949.4,458.3 949.0,455.6 948.6,453.8 948.2,451.8 947.9,449.4 947.5,447.8 947.1,445.9 946.7,443.0 946.3,441.7 945.9,438.5 945.5,436.8 945.2,435.5 944.8,432.8 944.4,431.3 944.0,429.1 942.0,425.9 940.0,424.5 938.6,423.4 937.3,421.7 935.9,419.3 934.6,418.5 933.2,416.7 931.9,414.7 930.5,413.3 928.8,412.8 927.1,410.5 925.4,409.5 923.7,408.0 922.0,407.1 919.9,407.3 917.8,407.6 915.6,406.2 913.5,407.0 911.4,406.7 909.3,406.4 907.2,406.2 905.1,406.1 902.9,406.2 900.8,405.5 898.7,405.9 896.6,406.2 894.5,405.6 892.3,404.8 890.2,405.9 888.1,405.0 886.0,406.1 883.9,405.2 881.8,405.4 879.7,405.8 877.5,405.9 875.4,406.4 873.3,406.0 871.2,406.4 869.1,407.1 867.0,407.7 864.9,408.0 862.8,408.1 860.6,408.8 858.5,409.0 856.4,409.8 854.3,409.7 852.2,409.7 850.0,411.2 847.9,410.6 845.8,412.1 843.7,412.2 841.6,412.1 839.5,412.2 837.4,413.7 835.2,413.1 833.1,414.2 831.0,413.9 828.9,415.3 826.8,416.0 824.7,415.9 822.6,416.7 820.5,416.4 818.3,416.7 816.2,416.9 814.1,418.5 812.0,418.8 809.9,419.3 807.7,418.6 805.6,419.8 803.5,420.4 801.6,420.3 799.6,421.8 797.7,421.4 795.8,421.7 793.9,423.1 791.9,424.2 790.0,423.8 788.1,424.0 786.2,424.9 784.2,425.7 782.3,427.1 780.4,426.3 778.5,427.2 776.5,427.7 774.6,428.8 772.7,430.0 770.8,430.3 768.9,430.8 767.0,430.6 765.0,431.5 763.1,432.2 761.2,432.6 759.1,432.7 757.0,434.2 754.8,434.3 752.7,435.0 750.6,435.8 748.5,435.3 746.4,436.2 744.2,437.1 742.1,436.8 740.0,437.3 737.6,437.7 735.2,437.9 732.9,438.9 730.5,439.7 728.4,440.0 726.3,440.2 724.1,440.3 722.0,440.6 719.9,441.9 717.8,441.7 715.7,441.9 713.5,442.8 711.4,443.0 709.3,443.8 707.4,443.8 705.4,444.4 703.5,445.2 701.6,447.1 699.7,447.7 697.7,448.3 695.8,448.9 693.9,449.2 692.0,450.8 690.0,450.9 688.1,451.9 686.1,452.7 684.0,454.0 682.0,454.7 680.0,454.7 678.0,456.4 676.0,456.2 674.1,457.1 672.1,457.5 670.1,457.5 668.1,457.8 666.1,458.5 664.2,458.6 662.2,458.8 660.2,459.2 658.2,459.7 656.3,460.6 654.3,460.8 652.3,461.2 650.2,461.7 648.2,462.0 646.1,463.1 644.1,463.6 642.0,463.4 640.0,463.5 637.9,464.6 635.9,464.3 633.8,464.9 631.8,465.7 629.7,466.7 627.7,466.7 625.6,466.6 623.6,467.8 621.5,467.5 619.5,467.8 617.5,468.1 615.6,469.0 613.6,468.5 611.6,468.9 609.6,469.7 607.6,469.4 605.7,469.7 603.7,470.3 601.7,470.5 599.7,471.8 597.8,471.7 595.8,471.6 593.8,472.5 590.0,472.5 588.0,473.5 585.9,473.7 583.9,472.5 581.8,473.4 579.8,472.6 577.7,473.6 575.7,472.7 573.6,473.3 571.6,472.5 569.5,473.1 567.5,473.0" fill="#f3c7b4"/>
<path d="M567,268.1 V473.3 H961" fill="none" stroke="#7a7a7a" stroke-width="1.5"/>
<path d="M567,268.1 h4" stroke="#7a7a7a" stroke-width="1.5"/>
<path d="M567,370.3 h4" stroke="#7a7a7a" stroke-width="1.5"/>
<path d="M567,473.3 h4" stroke="#7a7a7a" stroke-width="1.5"/>
<path d="M769.6,473.3 v-4" stroke="#7a7a7a" stroke-width="1.5"/>
<polyline points="567.0,473.0 570.5,472.6 573.0,468.1 573.7,465.8 574.3,463.3 575.0,461.2 575.6,458.7 576.3,456.4 577.3,453.3 578.4,451.3 579.4,448.7 580.5,446.5 581.5,444.5 583.6,441.8 585.8,439.7 587.9,437.8 589.3,435.5 590.6,433.0 592.0,431.1 594.0,429.5 596.1,427.0 598.1,425.9 600.1,424.0 602.1,421.9 604.2,420.0 606.2,418.9 608.1,416.6 610.0,414.7 611.9,412.9 613.9,411.9 615.8,409.9 617.7,408.4 619.6,406.5 621.5,404.6 623.7,403.7 625.9,401.9 628.1,400.7 630.3,399.6 632.5,398.1 634.7,397.0 636.9,395.5 639.5,394.6 642.0,392.9 644.6,392.1 647.2,391.1 649.7,389.9 652.3,389.0 654.5,387.3 656.7,385.9 658.9,384.7 661.1,383.0 663.3,381.4 665.5,379.8 667.7,378.3 670.2,377.9 672.6,376.6 675.1,375.6 677.5,374.2 680.0,373.7 682.5,372.6 685.0,372.1 687.4,372.0 689.9,371.1 692.4,370.4 694.8,369.7 697.2,369.1 699.6,368.2 702.0,367.0 704.5,366.0 706.9,365.5 709.3,364.7 711.7,363.8 714.2,363.8 716.7,362.9 719.2,361.7 721.7,361.3 724.2,360.3 726.7,360.0 729.2,358.8 731.7,357.9 734.1,357.1 736.6,356.7 739.1,355.7 741.6,355.2 744.1,354.7 746.6,353.6 749.1,352.6 751.6,352.6 754.1,351.4 756.6,350.7 759.1,350.4 761.6,350.1 764.1,350.3 766.5,350.1 769.0,349.5 771.5,348.8 774.0,348.8 776.5,349.0 779.0,348.3 781.5,348.4 784.0,348.0 786.4,346.9 788.9,347.2 791.4,346.9 793.9,346.4 796.4,345.9 799.0,345.9 801.7,345.1 804.3,345.0 807.0,344.7 809.6,344.8 812.2,344.3 814.9,343.4 817.5,343.3 820.2,342.7 822.8,343.0 825.5,342.6 828.1,341.7 830.8,341.8 833.4,341.6 836.0,341.0 838.7,341.4 841.4,341.0 844.0,341.0 846.6,340.6 849.3,340.0 851.9,340.2 854.6,339.9 857.2,340.7 859.9,340.7 862.5,340.6 865.1,340.1 867.8,339.9 870.4,340.6 873.1,340.6 875.7,339.8 878.4,340.3 881.0,340.1 883.6,340.9 886.3,341.0 888.8,341.3 891.4,342.5 893.9,343.4 896.5,343.9 899.0,345.3 901.5,345.8 903.9,346.5 906.4,347.7 908.9,348.7 911.3,349.1 913.8,350.1 915.9,352.3 918.0,353.6 920.1,355.0 922.3,356.6 924.4,357.9 926.5,359.6 927.9,361.8 929.3,364.1 930.8,365.9 932.2,368.0 933.6,370.0 935.0,372.6 936.3,374.6 937.6,377.5 938.8,379.8 940.1,381.5 941.4,384.0 942.4,387.1 943.5,389.4 944.5,392.1 945.6,395.6 946.6,398.0 947.1,400.9 947.5,404.2 948.0,407.3 948.5,409.7 948.7,412.2 948.9,415.1 949.1,417.6 949.3,420.2 949.5,423.0 949.7,425.5 950.0,428.4 950.2,430.1 950.4,433.0 950.6,435.5 950.8,438.5 951.0,440.5 951.2,443.0 951.6,446.2 952.0,449.1 952.3,451.9 952.7,454.8 953.1,458.3 955.8,458.7 958.5,460.0 960.4,459.7" fill="none" stroke="#0a62a2" stroke-width="2.5" stroke-linejoin="round" stroke-linecap="butt"/>
<polyline points="567.0,473.0 570.0,471.4 572.2,470.8 574.4,469.1 576.8,467.5 579.2,465.8 581.6,464.9 584.0,463.6 586.4,462.7 588.8,461.3 591.2,460.6 593.6,459.4 596.1,458.8 598.5,457.4 601.1,456.3 603.6,454.6 606.2,453.0 608.8,452.4 611.3,451.2 613.9,449.6 616.4,448.2 619.0,447.4 621.5,446.2 624.1,445.4 626.6,444.2 629.2,443.1 631.8,442.1 634.3,440.9 636.9,439.6 639.5,438.8 642.0,438.9 644.6,438.0 647.2,436.7 649.7,436.5 652.3,435.4 654.9,434.0 657.4,433.7 660.0,432.4 662.6,431.7 665.1,430.4 667.7,428.8 670.2,428.7 672.6,428.3 675.1,427.8 677.5,426.6 680.0,426.2 682.7,425.7 685.3,424.4 688.0,424.3 690.7,423.5 693.4,422.2 696.0,421.9 698.7,421.0 701.4,420.0 704.0,419.6 706.6,419.1 709.3,417.9 712.0,416.8 714.6,416.3 717.2,415.8 719.9,415.1 722.4,414.5 724.9,413.5 727.4,414.0 730.0,413.2 732.5,412.4 735.0,412.0 737.5,411.6 740.0,411.7 742.6,410.6 745.3,410.6 748.0,409.3 750.6,409.0 753.2,408.2 755.9,407.2 758.6,406.5 761.2,406.7 763.8,405.9 766.5,404.4 769.1,404.1 771.8,403.5 774.4,402.7 777.0,401.8 779.7,400.6 782.3,400.1 784.9,399.1 787.6,398.7 790.2,397.7 792.9,397.1 795.5,396.3 798.2,395.1 800.9,394.6 803.5,393.2 806.1,392.7 808.8,392.7 811.5,391.5 814.1,391.1 816.8,390.4 819.4,389.4 822.1,389.0 824.7,388.7 827.3,387.7 830.0,387.4 832.6,386.8 835.2,386.4 837.9,386.6 840.5,386.1 843.2,385.9 845.8,385.3 848.4,385.1 851.1,384.0 853.8,383.6 856.4,383.2 859.0,383.0 861.7,383.1 864.4,382.1 867.0,381.9 869.6,381.2 872.3,380.9 874.9,381.2 877.5,381.0 880.2,380.6 882.8,380.7 885.5,380.4 888.1,380.2 890.8,379.9 893.4,379.7 896.0,379.6 898.7,380.2 901.4,379.7 904.0,379.7 906.6,380.3 909.3,379.9 911.8,380.3 914.4,379.9 916.9,380.1 919.5,379.8 922.0,380.1 924.9,381.4 927.9,382.7 930.8,383.9 932.5,386.2 934.2,388.2 935.8,389.6 937.5,391.4 939.2,393.5 940.6,396.0 942.1,397.7 943.5,400.1 944.3,402.4 945.1,405.8 946.0,408.1 946.8,411.0 947.6,414.3 947.8,416.6 948.1,419.2 948.3,421.4 948.5,424.3 948.7,426.5 949.0,429.1 949.2,431.6 949.4,434.5 949.6,436.9 949.9,439.2 950.1,442.0 950.3,444.3 950.5,446.9 950.8,449.2 951.0,451.8 951.2,453.9 953.0,457.3 954.9,459.8 957.6,459.1 960.4,457.9" fill="none" stroke="#cc561c" stroke-width="2.2" stroke-linejoin="round" stroke-linecap="butt"/>
<rect x="575.2" y="296.3" width="67.1" height="36.6" fill="#fff" stroke="#777" stroke-width="1"/>
<path d="M576.6,305.6 h8.4" stroke="#0a62a2" stroke-width="1.9"/>
<path d="M577.0,323.3 h8" stroke="#cc561c" stroke-width="1.9"/>
<text x="588.0" y="312.5" text-anchor="start" font-size="19.3" textLength="50.4" lengthAdjust="spacingAndGlyphs">T cells</text>
<text x="589.0" y="330.3" text-anchor="start" font-size="19.3" textLength="50.8" lengthAdjust="spacingAndGlyphs">B cells</text>
<text x="521.8" y="313.8" text-anchor="middle" font-size="19.3">Immune</text>
<text x="521.8" y="336.5" text-anchor="middle" font-size="19.3">cells</text>
<text x="561.7" y="273.5" text-anchor="end" font-size="19.3">20</text>
<text x="561.7" y="375.7" text-anchor="end" font-size="19.3">10</text>
<text x="561.7" y="478.7" text-anchor="end" font-size="19.3">0</text>
<text x="567.5" y="495.2" text-anchor="middle" font-size="19.3">100</text>
<text x="770" y="495.2" text-anchor="middle" font-size="19.3">50</text>
<text x="885.2" y="495.3" text-anchor="start" font-size="19.3">% beta</text>
<text x="885.2" y="517.6" text-anchor="start" font-size="19.3">cell mass</text>
<text x="576.0" y="290.0" text-anchor="start" font-size="19.3" textLength="72.6" lengthAdjust="spacingAndGlyphs">No repair</text>
</g>
</svg></body></html>
